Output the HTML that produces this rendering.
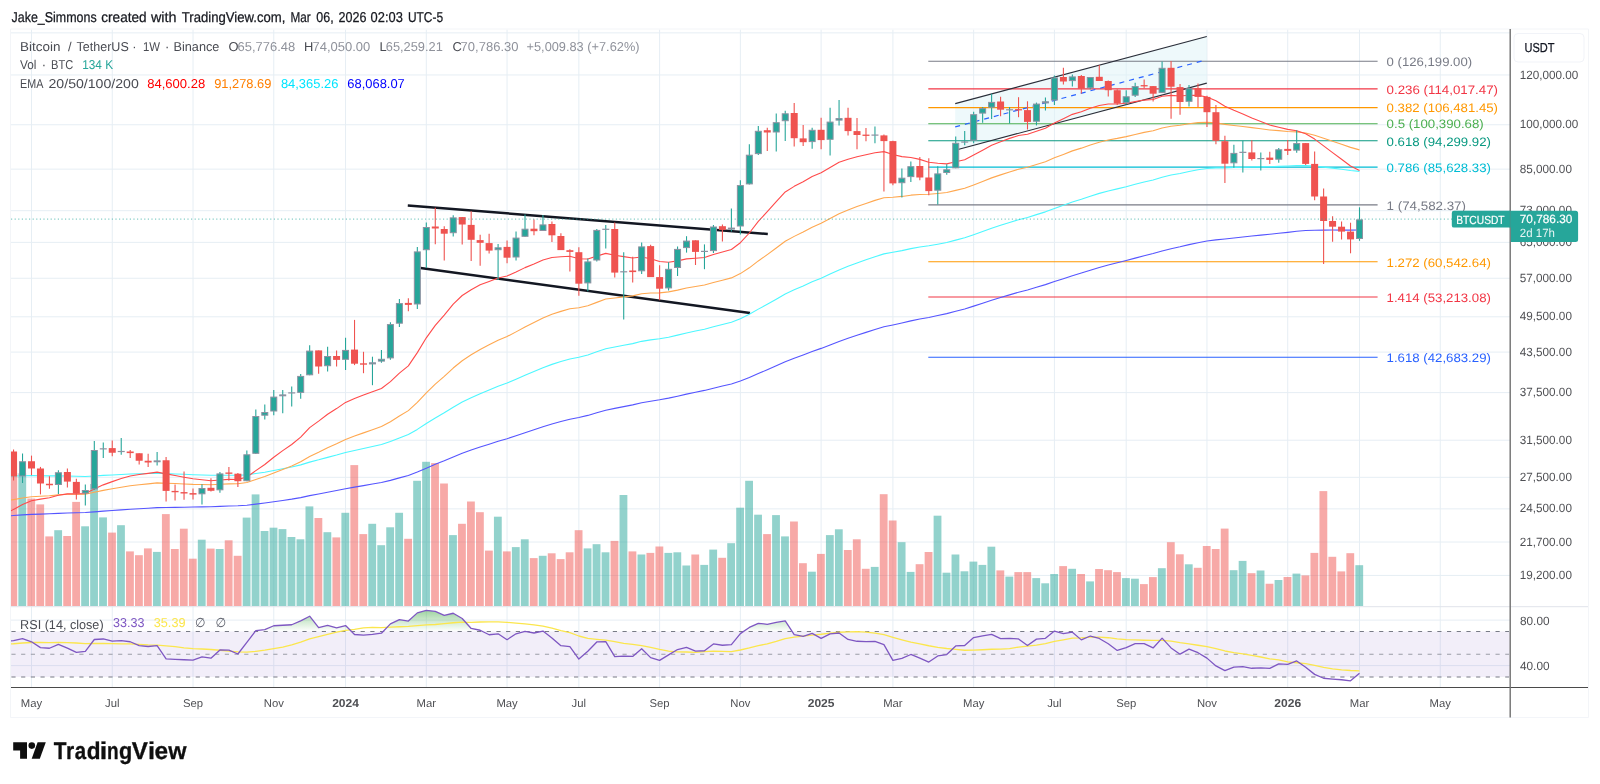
<!DOCTYPE html>
<html><head><meta charset="utf-8"><title>BTCUSDT chart</title>
<style>html,body{margin:0;padding:0;background:#fff;}body{width:1600px;height:784px;overflow:hidden;font-family:"Liberation Sans",sans-serif;}svg{display:block;will-change:transform;text-rendering:geometricPrecision}</style>
</head><body><svg width="1600" height="784" viewBox="0 0 1600 784" font-family="Liberation Sans, sans-serif"><rect x="0" y="0" width="1600" height="784" fill="#fff"/>
<line x1="31.50" y1="29.5" x2="31.50" y2="687.5" stroke="#e6eef4" stroke-width="1"/>
<line x1="112.25" y1="29.5" x2="112.25" y2="687.5" stroke="#e6eef4" stroke-width="1"/>
<line x1="193.01" y1="29.5" x2="193.01" y2="687.5" stroke="#e6eef4" stroke-width="1"/>
<line x1="273.77" y1="29.5" x2="273.77" y2="687.5" stroke="#e6eef4" stroke-width="1"/>
<line x1="345.55" y1="29.5" x2="345.55" y2="687.5" stroke="#e6eef4" stroke-width="1"/>
<line x1="426.31" y1="29.5" x2="426.31" y2="687.5" stroke="#e6eef4" stroke-width="1"/>
<line x1="507.06" y1="29.5" x2="507.06" y2="687.5" stroke="#e6eef4" stroke-width="1"/>
<line x1="578.85" y1="29.5" x2="578.85" y2="687.5" stroke="#e6eef4" stroke-width="1"/>
<line x1="659.61" y1="29.5" x2="659.61" y2="687.5" stroke="#e6eef4" stroke-width="1"/>
<line x1="740.36" y1="29.5" x2="740.36" y2="687.5" stroke="#e6eef4" stroke-width="1"/>
<line x1="821.12" y1="29.5" x2="821.12" y2="687.5" stroke="#e6eef4" stroke-width="1"/>
<line x1="892.90" y1="29.5" x2="892.90" y2="687.5" stroke="#e6eef4" stroke-width="1"/>
<line x1="973.66" y1="29.5" x2="973.66" y2="687.5" stroke="#e6eef4" stroke-width="1"/>
<line x1="1054.42" y1="29.5" x2="1054.42" y2="687.5" stroke="#e6eef4" stroke-width="1"/>
<line x1="1126.20" y1="29.5" x2="1126.20" y2="687.5" stroke="#e6eef4" stroke-width="1"/>
<line x1="1206.96" y1="29.5" x2="1206.96" y2="687.5" stroke="#e6eef4" stroke-width="1"/>
<line x1="1287.72" y1="29.5" x2="1287.72" y2="687.5" stroke="#e6eef4" stroke-width="1"/>
<line x1="1359.50" y1="29.5" x2="1359.50" y2="687.5" stroke="#e6eef4" stroke-width="1"/>
<line x1="1440.26" y1="29.5" x2="1440.26" y2="687.5" stroke="#e6eef4" stroke-width="1"/>
<line x1="11" y1="32.86" x2="1510" y2="32.86" stroke="#e6eef4" stroke-width="1"/>
<line x1="11" y1="74.96" x2="1510" y2="74.96" stroke="#e6eef4" stroke-width="1"/>
<line x1="11" y1="124.75" x2="1510" y2="124.75" stroke="#e6eef4" stroke-width="1"/>
<line x1="11" y1="169.13" x2="1510" y2="169.13" stroke="#e6eef4" stroke-width="1"/>
<line x1="11" y1="210.70" x2="1510" y2="210.70" stroke="#e6eef4" stroke-width="1"/>
<line x1="11" y1="242.39" x2="1510" y2="242.39" stroke="#e6eef4" stroke-width="1"/>
<line x1="11" y1="278.26" x2="1510" y2="278.26" stroke="#e6eef4" stroke-width="1"/>
<line x1="11" y1="316.79" x2="1510" y2="316.79" stroke="#e6eef4" stroke-width="1"/>
<line x1="11" y1="352.08" x2="1510" y2="352.08" stroke="#e6eef4" stroke-width="1"/>
<line x1="11" y1="392.61" x2="1510" y2="392.61" stroke="#e6eef4" stroke-width="1"/>
<line x1="11" y1="440.23" x2="1510" y2="440.23" stroke="#e6eef4" stroke-width="1"/>
<line x1="11" y1="477.32" x2="1510" y2="477.32" stroke="#e6eef4" stroke-width="1"/>
<line x1="11" y1="508.86" x2="1510" y2="508.86" stroke="#e6eef4" stroke-width="1"/>
<line x1="11" y1="542.01" x2="1510" y2="542.01" stroke="#e6eef4" stroke-width="1"/>
<line x1="11" y1="575.43" x2="1510" y2="575.43" stroke="#e6eef4" stroke-width="1"/>
<polygon points="955.2,103.6 1206.8,36.5 1206.8,83.1 955.2,150.2" fill="#def3f8" fill-opacity="0.5"/>
<rect x="11.00" y="473.00" width="6.20" height="133.00" fill="#ef5350" fill-opacity="0.5"/>
<rect x="18.37" y="473.30" width="7.80" height="132.70" fill="#26a69a" fill-opacity="0.5"/>
<rect x="27.35" y="498.60" width="7.80" height="107.40" fill="#ef5350" fill-opacity="0.5"/>
<rect x="36.32" y="504.40" width="7.80" height="101.60" fill="#ef5350" fill-opacity="0.5"/>
<rect x="45.29" y="536.40" width="7.80" height="69.60" fill="#ef5350" fill-opacity="0.5"/>
<rect x="54.26" y="530.20" width="7.80" height="75.80" fill="#26a69a" fill-opacity="0.5"/>
<rect x="63.24" y="536.00" width="7.80" height="70.00" fill="#ef5350" fill-opacity="0.5"/>
<rect x="72.21" y="501.90" width="7.80" height="104.10" fill="#ef5350" fill-opacity="0.5"/>
<rect x="81.18" y="526.30" width="7.80" height="79.70" fill="#26a69a" fill-opacity="0.5"/>
<rect x="90.16" y="484.00" width="7.80" height="122.00" fill="#26a69a" fill-opacity="0.5"/>
<rect x="99.13" y="517.40" width="7.80" height="88.60" fill="#26a69a" fill-opacity="0.5"/>
<rect x="108.10" y="532.60" width="7.80" height="73.40" fill="#ef5350" fill-opacity="0.5"/>
<rect x="117.08" y="525.20" width="7.80" height="80.80" fill="#26a69a" fill-opacity="0.5"/>
<rect x="126.05" y="551.40" width="7.80" height="54.60" fill="#ef5350" fill-opacity="0.5"/>
<rect x="135.02" y="555.20" width="7.80" height="50.80" fill="#ef5350" fill-opacity="0.5"/>
<rect x="143.99" y="548.40" width="7.80" height="57.60" fill="#ef5350" fill-opacity="0.5"/>
<rect x="152.97" y="551.90" width="7.80" height="54.10" fill="#26a69a" fill-opacity="0.5"/>
<rect x="161.94" y="514.10" width="7.80" height="91.90" fill="#ef5350" fill-opacity="0.5"/>
<rect x="170.91" y="549.00" width="7.80" height="57.00" fill="#ef5350" fill-opacity="0.5"/>
<rect x="179.89" y="528.70" width="7.80" height="77.30" fill="#ef5350" fill-opacity="0.5"/>
<rect x="188.86" y="558.70" width="7.80" height="47.30" fill="#ef5350" fill-opacity="0.5"/>
<rect x="197.83" y="539.70" width="7.80" height="66.30" fill="#26a69a" fill-opacity="0.5"/>
<rect x="206.81" y="548.60" width="7.80" height="57.40" fill="#ef5350" fill-opacity="0.5"/>
<rect x="215.78" y="549.00" width="7.80" height="57.00" fill="#26a69a" fill-opacity="0.5"/>
<rect x="224.75" y="540.30" width="7.80" height="65.70" fill="#ef5350" fill-opacity="0.5"/>
<rect x="233.72" y="555.80" width="7.80" height="50.20" fill="#ef5350" fill-opacity="0.5"/>
<rect x="242.70" y="517.60" width="7.80" height="88.40" fill="#26a69a" fill-opacity="0.5"/>
<rect x="251.67" y="494.40" width="7.80" height="111.60" fill="#26a69a" fill-opacity="0.5"/>
<rect x="260.64" y="531.00" width="7.80" height="75.00" fill="#26a69a" fill-opacity="0.5"/>
<rect x="269.62" y="527.70" width="7.80" height="78.30" fill="#26a69a" fill-opacity="0.5"/>
<rect x="278.59" y="529.10" width="7.80" height="76.90" fill="#26a69a" fill-opacity="0.5"/>
<rect x="287.56" y="537.00" width="7.80" height="69.00" fill="#26a69a" fill-opacity="0.5"/>
<rect x="296.54" y="539.30" width="7.80" height="66.70" fill="#26a69a" fill-opacity="0.5"/>
<rect x="305.51" y="506.40" width="7.80" height="99.60" fill="#26a69a" fill-opacity="0.5"/>
<rect x="314.48" y="518.00" width="7.80" height="88.00" fill="#ef5350" fill-opacity="0.5"/>
<rect x="323.46" y="532.20" width="7.80" height="73.80" fill="#26a69a" fill-opacity="0.5"/>
<rect x="332.43" y="537.40" width="7.80" height="68.60" fill="#ef5350" fill-opacity="0.5"/>
<rect x="341.40" y="512.80" width="7.80" height="93.20" fill="#26a69a" fill-opacity="0.5"/>
<rect x="350.37" y="465.10" width="7.80" height="140.90" fill="#ef5350" fill-opacity="0.5"/>
<rect x="359.35" y="534.10" width="7.80" height="71.90" fill="#ef5350" fill-opacity="0.5"/>
<rect x="368.32" y="523.80" width="7.80" height="82.20" fill="#26a69a" fill-opacity="0.5"/>
<rect x="377.29" y="545.20" width="7.80" height="60.80" fill="#26a69a" fill-opacity="0.5"/>
<rect x="386.27" y="527.30" width="7.80" height="78.70" fill="#26a69a" fill-opacity="0.5"/>
<rect x="395.24" y="512.80" width="7.80" height="93.20" fill="#26a69a" fill-opacity="0.5"/>
<rect x="404.21" y="538.80" width="7.80" height="67.20" fill="#ef5350" fill-opacity="0.5"/>
<rect x="413.18" y="480.80" width="7.80" height="125.20" fill="#26a69a" fill-opacity="0.5"/>
<rect x="422.16" y="461.80" width="7.80" height="144.20" fill="#26a69a" fill-opacity="0.5"/>
<rect x="431.13" y="463.10" width="7.80" height="142.90" fill="#ef5350" fill-opacity="0.5"/>
<rect x="440.10" y="483.50" width="7.80" height="122.50" fill="#ef5350" fill-opacity="0.5"/>
<rect x="449.08" y="535.10" width="7.80" height="70.90" fill="#26a69a" fill-opacity="0.5"/>
<rect x="458.05" y="523.80" width="7.80" height="82.20" fill="#ef5350" fill-opacity="0.5"/>
<rect x="467.02" y="501.50" width="7.80" height="104.50" fill="#ef5350" fill-opacity="0.5"/>
<rect x="476.00" y="512.20" width="7.80" height="93.80" fill="#ef5350" fill-opacity="0.5"/>
<rect x="484.97" y="550.60" width="7.80" height="55.40" fill="#ef5350" fill-opacity="0.5"/>
<rect x="493.94" y="516.70" width="7.80" height="89.30" fill="#26a69a" fill-opacity="0.5"/>
<rect x="502.91" y="551.40" width="7.80" height="54.60" fill="#ef5350" fill-opacity="0.5"/>
<rect x="511.89" y="547.10" width="7.80" height="58.90" fill="#26a69a" fill-opacity="0.5"/>
<rect x="520.86" y="539.30" width="7.80" height="66.70" fill="#26a69a" fill-opacity="0.5"/>
<rect x="529.83" y="558.10" width="7.80" height="47.90" fill="#ef5350" fill-opacity="0.5"/>
<rect x="538.81" y="555.80" width="7.80" height="50.20" fill="#26a69a" fill-opacity="0.5"/>
<rect x="547.78" y="553.30" width="7.80" height="52.70" fill="#ef5350" fill-opacity="0.5"/>
<rect x="556.75" y="559.10" width="7.80" height="46.90" fill="#ef5350" fill-opacity="0.5"/>
<rect x="565.73" y="552.30" width="7.80" height="53.70" fill="#ef5350" fill-opacity="0.5"/>
<rect x="574.70" y="530.20" width="7.80" height="75.80" fill="#ef5350" fill-opacity="0.5"/>
<rect x="583.67" y="548.40" width="7.80" height="57.60" fill="#26a69a" fill-opacity="0.5"/>
<rect x="592.64" y="544.20" width="7.80" height="61.80" fill="#26a69a" fill-opacity="0.5"/>
<rect x="601.62" y="552.30" width="7.80" height="53.70" fill="#26a69a" fill-opacity="0.5"/>
<rect x="610.59" y="540.90" width="7.80" height="65.10" fill="#ef5350" fill-opacity="0.5"/>
<rect x="619.56" y="495.00" width="7.80" height="111.00" fill="#26a69a" fill-opacity="0.5"/>
<rect x="628.54" y="551.40" width="7.80" height="54.60" fill="#ef5350" fill-opacity="0.5"/>
<rect x="637.51" y="554.50" width="7.80" height="51.50" fill="#26a69a" fill-opacity="0.5"/>
<rect x="646.48" y="552.90" width="7.80" height="53.10" fill="#ef5350" fill-opacity="0.5"/>
<rect x="655.46" y="546.50" width="7.80" height="59.50" fill="#ef5350" fill-opacity="0.5"/>
<rect x="664.43" y="552.90" width="7.80" height="53.10" fill="#26a69a" fill-opacity="0.5"/>
<rect x="673.40" y="552.30" width="7.80" height="53.70" fill="#26a69a" fill-opacity="0.5"/>
<rect x="682.38" y="565.50" width="7.80" height="40.50" fill="#26a69a" fill-opacity="0.5"/>
<rect x="691.35" y="554.50" width="7.80" height="51.50" fill="#ef5350" fill-opacity="0.5"/>
<rect x="700.32" y="564.90" width="7.80" height="41.10" fill="#26a69a" fill-opacity="0.5"/>
<rect x="709.29" y="549.60" width="7.80" height="56.40" fill="#26a69a" fill-opacity="0.5"/>
<rect x="718.27" y="557.80" width="7.80" height="48.20" fill="#ef5350" fill-opacity="0.5"/>
<rect x="727.24" y="543.20" width="7.80" height="62.80" fill="#26a69a" fill-opacity="0.5"/>
<rect x="736.21" y="507.70" width="7.80" height="98.30" fill="#26a69a" fill-opacity="0.5"/>
<rect x="745.19" y="480.80" width="7.80" height="125.20" fill="#26a69a" fill-opacity="0.5"/>
<rect x="754.16" y="514.70" width="7.80" height="91.30" fill="#26a69a" fill-opacity="0.5"/>
<rect x="763.13" y="534.10" width="7.80" height="71.90" fill="#ef5350" fill-opacity="0.5"/>
<rect x="772.11" y="515.10" width="7.80" height="90.90" fill="#26a69a" fill-opacity="0.5"/>
<rect x="781.08" y="536.40" width="7.80" height="69.60" fill="#26a69a" fill-opacity="0.5"/>
<rect x="790.05" y="521.50" width="7.80" height="84.50" fill="#ef5350" fill-opacity="0.5"/>
<rect x="799.02" y="563.20" width="7.80" height="42.80" fill="#ef5350" fill-opacity="0.5"/>
<rect x="808.00" y="571.70" width="7.80" height="34.30" fill="#26a69a" fill-opacity="0.5"/>
<rect x="816.97" y="553.90" width="7.80" height="52.10" fill="#ef5350" fill-opacity="0.5"/>
<rect x="825.94" y="535.10" width="7.80" height="70.90" fill="#26a69a" fill-opacity="0.5"/>
<rect x="834.92" y="529.30" width="7.80" height="76.70" fill="#26a69a" fill-opacity="0.5"/>
<rect x="843.89" y="550.00" width="7.80" height="56.00" fill="#ef5350" fill-opacity="0.5"/>
<rect x="852.86" y="539.30" width="7.80" height="66.70" fill="#ef5350" fill-opacity="0.5"/>
<rect x="861.83" y="568.80" width="7.80" height="37.20" fill="#ef5350" fill-opacity="0.5"/>
<rect x="870.81" y="566.90" width="7.80" height="39.10" fill="#26a69a" fill-opacity="0.5"/>
<rect x="879.78" y="494.20" width="7.80" height="111.80" fill="#ef5350" fill-opacity="0.5"/>
<rect x="888.75" y="520.50" width="7.80" height="85.50" fill="#ef5350" fill-opacity="0.5"/>
<rect x="897.73" y="542.20" width="7.80" height="63.80" fill="#26a69a" fill-opacity="0.5"/>
<rect x="906.70" y="571.90" width="7.80" height="34.10" fill="#26a69a" fill-opacity="0.5"/>
<rect x="915.67" y="564.20" width="7.80" height="41.80" fill="#ef5350" fill-opacity="0.5"/>
<rect x="924.65" y="552.00" width="7.80" height="54.00" fill="#ef5350" fill-opacity="0.5"/>
<rect x="933.62" y="515.70" width="7.80" height="90.30" fill="#26a69a" fill-opacity="0.5"/>
<rect x="942.59" y="572.70" width="7.80" height="33.30" fill="#26a69a" fill-opacity="0.5"/>
<rect x="951.56" y="554.50" width="7.80" height="51.50" fill="#26a69a" fill-opacity="0.5"/>
<rect x="960.54" y="571.30" width="7.80" height="34.70" fill="#26a69a" fill-opacity="0.5"/>
<rect x="969.51" y="561.60" width="7.80" height="44.40" fill="#26a69a" fill-opacity="0.5"/>
<rect x="978.48" y="564.90" width="7.80" height="41.10" fill="#26a69a" fill-opacity="0.5"/>
<rect x="987.46" y="546.70" width="7.80" height="59.30" fill="#26a69a" fill-opacity="0.5"/>
<rect x="996.43" y="570.40" width="7.80" height="35.60" fill="#ef5350" fill-opacity="0.5"/>
<rect x="1005.40" y="576.60" width="7.80" height="29.40" fill="#26a69a" fill-opacity="0.5"/>
<rect x="1014.38" y="572.10" width="7.80" height="33.90" fill="#ef5350" fill-opacity="0.5"/>
<rect x="1023.35" y="572.10" width="7.80" height="33.90" fill="#ef5350" fill-opacity="0.5"/>
<rect x="1032.32" y="578.10" width="7.80" height="27.90" fill="#26a69a" fill-opacity="0.5"/>
<rect x="1041.29" y="583.30" width="7.80" height="22.70" fill="#26a69a" fill-opacity="0.5"/>
<rect x="1050.27" y="574.00" width="7.80" height="32.00" fill="#26a69a" fill-opacity="0.5"/>
<rect x="1059.24" y="566.10" width="7.80" height="39.90" fill="#ef5350" fill-opacity="0.5"/>
<rect x="1068.21" y="568.80" width="7.80" height="37.20" fill="#26a69a" fill-opacity="0.5"/>
<rect x="1077.19" y="574.00" width="7.80" height="32.00" fill="#ef5350" fill-opacity="0.5"/>
<rect x="1086.16" y="581.40" width="7.80" height="24.60" fill="#26a69a" fill-opacity="0.5"/>
<rect x="1095.13" y="569.00" width="7.80" height="37.00" fill="#ef5350" fill-opacity="0.5"/>
<rect x="1104.11" y="570.20" width="7.80" height="35.80" fill="#ef5350" fill-opacity="0.5"/>
<rect x="1113.08" y="572.10" width="7.80" height="33.90" fill="#ef5350" fill-opacity="0.5"/>
<rect x="1122.05" y="578.10" width="7.80" height="27.90" fill="#26a69a" fill-opacity="0.5"/>
<rect x="1131.02" y="578.70" width="7.80" height="27.30" fill="#26a69a" fill-opacity="0.5"/>
<rect x="1140.00" y="584.10" width="7.80" height="21.90" fill="#ef5350" fill-opacity="0.5"/>
<rect x="1148.97" y="577.10" width="7.80" height="28.90" fill="#ef5350" fill-opacity="0.5"/>
<rect x="1157.94" y="568.20" width="7.80" height="37.80" fill="#26a69a" fill-opacity="0.5"/>
<rect x="1166.92" y="542.20" width="7.80" height="63.80" fill="#ef5350" fill-opacity="0.5"/>
<rect x="1175.89" y="554.30" width="7.80" height="51.70" fill="#ef5350" fill-opacity="0.5"/>
<rect x="1184.86" y="564.30" width="7.80" height="41.70" fill="#26a69a" fill-opacity="0.5"/>
<rect x="1193.84" y="567.80" width="7.80" height="38.20" fill="#ef5350" fill-opacity="0.5"/>
<rect x="1202.81" y="546.00" width="7.80" height="60.00" fill="#ef5350" fill-opacity="0.5"/>
<rect x="1211.78" y="549.00" width="7.80" height="57.00" fill="#ef5350" fill-opacity="0.5"/>
<rect x="1220.75" y="528.60" width="7.80" height="77.40" fill="#ef5350" fill-opacity="0.5"/>
<rect x="1229.73" y="570.20" width="7.80" height="35.80" fill="#26a69a" fill-opacity="0.5"/>
<rect x="1238.70" y="560.90" width="7.80" height="45.10" fill="#26a69a" fill-opacity="0.5"/>
<rect x="1247.67" y="573.20" width="7.80" height="32.80" fill="#ef5350" fill-opacity="0.5"/>
<rect x="1256.65" y="570.50" width="7.80" height="35.50" fill="#26a69a" fill-opacity="0.5"/>
<rect x="1265.62" y="583.75" width="7.80" height="22.25" fill="#ef5350" fill-opacity="0.5"/>
<rect x="1274.59" y="580.00" width="7.80" height="26.00" fill="#26a69a" fill-opacity="0.5"/>
<rect x="1283.57" y="577.00" width="7.80" height="29.00" fill="#ef5350" fill-opacity="0.5"/>
<rect x="1292.54" y="573.60" width="7.80" height="32.40" fill="#26a69a" fill-opacity="0.5"/>
<rect x="1301.51" y="575.40" width="7.80" height="30.60" fill="#ef5350" fill-opacity="0.5"/>
<rect x="1310.48" y="552.90" width="7.80" height="53.10" fill="#ef5350" fill-opacity="0.5"/>
<rect x="1319.46" y="491.10" width="7.80" height="114.90" fill="#ef5350" fill-opacity="0.5"/>
<rect x="1328.43" y="556.80" width="7.80" height="49.20" fill="#ef5350" fill-opacity="0.5"/>
<rect x="1337.40" y="571.40" width="7.80" height="34.60" fill="#ef5350" fill-opacity="0.5"/>
<rect x="1346.38" y="553.20" width="7.80" height="52.80" fill="#ef5350" fill-opacity="0.5"/>
<rect x="1355.35" y="565.20" width="7.80" height="40.80" fill="#26a69a" fill-opacity="0.5"/>
<line x1="928.3" y1="61.20" x2="1377.6" y2="61.20" stroke="#787b86" stroke-width="1.1"/>
<line x1="928.3" y1="88.92" x2="1377.6" y2="88.92" stroke="#f23645" stroke-width="1.1"/>
<line x1="928.3" y1="107.60" x2="1377.6" y2="107.60" stroke="#ff9800" stroke-width="1.1"/>
<line x1="928.3" y1="123.68" x2="1377.6" y2="123.68" stroke="#4caf50" stroke-width="1.1"/>
<line x1="928.3" y1="140.78" x2="1377.6" y2="140.78" stroke="#089981" stroke-width="1.1"/>
<line x1="928.3" y1="167.12" x2="1377.6" y2="167.12" stroke="#00bcd4" stroke-width="1.1"/>
<line x1="928.3" y1="204.84" x2="1377.6" y2="204.84" stroke="#787b86" stroke-width="1.1"/>
<line x1="928.3" y1="261.80" x2="1377.6" y2="261.80" stroke="#ff9800" stroke-width="1.1"/>
<line x1="928.3" y1="297.04" x2="1377.6" y2="297.04" stroke="#f23645" stroke-width="1.1"/>
<line x1="928.3" y1="357.25" x2="1377.6" y2="357.25" stroke="#2962ff" stroke-width="1.1"/>
<line x1="955.2" y1="103.6" x2="1206.8" y2="36.5" stroke="#2a2e39" stroke-width="1.15"/>
<line x1="955.2" y1="150.2" x2="1206.8" y2="83.1" stroke="#2a2e39" stroke-width="1.15"/>
<line x1="955.2" y1="126.9" x2="1202.8" y2="60.8" stroke="#2962ff" stroke-width="1.2" stroke-dasharray="5,5"/>
<line x1="407.8" y1="205.5" x2="767.8" y2="234" stroke="#131722" stroke-width="2.55"/>
<line x1="420.5" y1="268" x2="750" y2="312.9" stroke="#131722" stroke-width="2.55"/>
<polyline points="11,515.68 13.55,515.50 22.52,514.90 31.50,514.40 40.47,514.08 49.44,513.77 58.41,513.33 67.39,512.99 76.36,512.79 85.33,512.56 94.31,511.86 103.28,511.14 112.25,510.50 121.23,509.84 130.20,509.21 139.17,508.68 148.14,508.18 157.12,507.66 166.09,507.49 175.06,507.33 184.04,507.19 193.01,507.06 201.98,506.87 210.96,506.70 219.93,506.35 228.90,506.01 237.88,505.75 246.85,505.19 255.82,504.14 264.79,503.05 273.77,501.76 282.74,500.45 291.71,499.14 300.69,497.59 309.66,495.66 318.63,494.02 327.61,492.24 336.58,490.55 345.55,488.73 354.52,487.15 363.50,485.62 372.47,484.07 381.44,482.50 390.42,480.37 399.39,477.90 408.36,475.51 417.33,472.07 426.31,468.15 435.28,464.36 444.25,460.78 453.23,456.90 462.20,453.27 471.17,450.07 480.15,447.00 489.12,444.16 498.09,441.30 507.06,438.71 516.04,435.77 525.01,432.70 533.98,429.75 542.96,426.72 551.93,423.98 560.90,421.57 569.88,419.24 578.85,417.50 587.82,415.41 596.79,412.78 605.77,410.18 614.74,408.40 623.71,406.63 632.69,404.91 641.66,402.78 650.63,401.20 659.61,399.81 668.58,398.15 677.55,396.18 686.52,394.10 695.50,392.25 704.47,390.41 713.44,388.19 722.42,386.06 731.39,383.93 740.36,381.04 749.34,377.55 758.31,373.59 767.28,369.77 776.25,365.79 785.23,361.68 794.20,358.26 803.17,355.01 812.15,351.55 821.12,348.39 830.09,344.89 839.07,341.40 848.04,338.27 857.01,335.28 865.98,332.37 874.96,329.50 883.93,326.81 892.90,324.94 901.88,323.01 910.85,320.91 919.82,319.04 928.80,317.42 937.77,315.54 946.74,313.62 955.71,311.27 964.69,308.93 973.66,306.12 982.63,303.24 991.61,300.30 1000.58,297.57 1009.55,294.88 1018.53,292.26 1027.50,289.92 1036.47,287.27 1045.44,284.63 1054.42,281.57 1063.39,278.65 1072.36,275.68 1081.34,273.02 1090.31,270.18 1099.28,267.48 1108.26,265.01 1117.23,262.83 1126.20,260.55 1135.17,258.13 1144.15,255.76 1153.12,253.57 1162.09,250.93 1171.07,248.70 1180.04,246.78 1189.01,244.64 1197.99,242.70 1206.96,241.04 1215.93,239.84 1224.90,238.97 1233.88,237.96 1242.85,236.96 1251.82,236.06 1260.80,235.16 1269.77,234.30 1278.74,233.31 1287.72,232.36 1296.69,231.31 1305.66,230.55 1314.63,230.19 1323.61,230.09 1332.58,230.06 1341.55,230.08 1350.53,230.17 1359.50,230.05" fill="none" stroke="#5555ff" stroke-width="1.1" stroke-linejoin="round" clip-path="url(#cpm)"/>
<polyline points="11,476.09 13.55,476.00 22.52,475.70 31.50,475.56 40.47,475.71 49.44,475.90 58.41,475.82 67.39,475.94 76.36,476.27 85.33,476.54 94.31,475.99 103.28,475.41 112.25,474.94 121.23,474.44 130.20,474.01 139.17,473.74 148.14,473.51 157.12,473.24 166.09,473.58 175.06,473.94 184.04,474.31 193.01,474.70 201.98,474.96 210.96,475.26 219.93,475.23 228.90,475.20 237.88,475.31 246.85,474.88 255.82,473.58 264.79,472.22 273.77,470.50 282.74,468.77 291.71,467.03 300.69,464.89 309.66,462.10 318.63,459.84 327.61,457.35 336.58,455.04 345.55,452.51 354.52,450.44 363.50,448.46 372.47,446.46 381.44,444.42 390.42,441.44 399.39,437.90 408.36,434.52 417.33,429.41 426.31,423.53 435.28,417.95 444.25,412.79 453.23,407.20 462.20,402.09 471.17,397.74 480.15,393.64 489.12,389.94 498.09,386.26 507.06,383.03 516.04,379.25 525.01,375.30 533.98,371.57 542.96,367.73 551.93,364.38 560.90,361.58 569.88,358.92 578.85,357.22 587.82,354.95 596.79,351.83 605.77,348.77 614.74,347.03 623.71,345.30 632.69,343.64 641.66,341.34 650.63,339.91 659.61,338.80 668.58,337.22 677.55,335.16 686.52,332.94 695.50,331.07 704.47,329.24 713.44,326.78 722.42,324.48 731.39,322.19 740.36,318.69 749.34,314.27 758.31,309.14 767.28,304.27 776.25,299.19 785.23,293.97 794.20,289.84 803.17,285.99 812.15,281.85 821.12,278.19 830.09,274.04 839.07,269.90 848.04,266.34 857.01,263.03 865.98,259.84 874.96,256.71 883.93,253.87 892.90,252.29 901.88,250.59 910.85,248.64 919.82,247.04 928.80,245.81 937.77,244.17 946.74,242.47 955.71,240.10 964.69,237.76 973.66,234.68 982.63,231.51 991.61,228.24 1000.58,225.32 1009.55,222.47 1018.53,219.73 1027.50,217.41 1036.47,214.63 1045.44,211.86 1054.42,208.44 1063.39,205.26 1072.36,202.02 1081.34,199.25 1090.31,196.21 1099.28,193.39 1108.26,190.92 1117.23,188.89 1126.20,186.71 1135.17,184.31 1144.15,181.98 1153.12,179.93 1162.09,177.20 1171.07,175.08 1180.04,173.43 1189.01,171.45 1197.99,169.76 1206.96,168.49 1215.93,167.92 1224.90,167.83 1233.88,167.53 1242.85,167.21 1251.82,167.04 1260.80,166.86 1269.77,166.72 1278.74,166.37 1287.72,166.05 1296.69,165.58 1305.66,165.54 1314.63,166.12 1323.61,167.11 1332.58,168.17 1341.55,169.30 1350.53,170.52 1359.50,171.41" fill="none" stroke="#4df7ff" stroke-width="1.1" stroke-linejoin="round" clip-path="url(#cpm)"/>
<polyline points="11,500.08 13.55,499.60 22.52,497.99 31.50,496.77 40.47,496.24 49.44,495.80 58.41,494.84 67.39,494.31 76.36,494.27 85.33,494.10 94.31,492.23 103.28,490.36 112.25,488.79 121.23,487.20 130.20,485.78 139.17,484.75 148.14,483.85 157.12,482.89 166.09,483.20 175.06,483.55 184.04,483.93 193.01,484.34 201.98,484.48 210.96,484.73 219.93,484.28 228.90,483.85 237.88,483.75 246.85,482.53 255.82,479.59 264.79,476.60 273.77,472.98 282.74,469.43 291.71,465.97 300.69,461.81 309.66,456.48 318.63,452.33 327.61,447.84 336.58,443.80 345.55,439.44 354.52,436.04 363.50,432.86 372.47,429.72 381.44,426.57 390.42,421.73 399.39,415.97 408.36,410.65 417.33,402.30 426.31,392.82 435.28,384.13 444.25,376.37 453.23,368.04 462.20,360.73 471.17,354.83 480.15,349.45 489.12,344.82 498.09,340.26 507.06,336.51 516.04,331.87 525.01,327.00 533.98,322.54 542.96,317.95 551.93,314.19 560.90,311.37 569.88,308.78 578.85,307.75 587.82,305.77 596.79,302.37 605.77,299.07 614.74,297.98 623.71,296.87 632.69,295.86 641.66,293.74 650.63,293.07 659.61,292.89 668.58,291.91 677.55,290.09 686.52,287.97 695.50,286.46 704.47,284.97 713.44,282.43 722.42,280.17 731.39,277.90 740.36,273.60 749.34,267.82 758.31,260.93 767.28,254.58 776.25,247.98 785.23,241.23 794.20,236.37 803.17,231.99 812.15,227.18 821.12,223.18 830.09,218.40 839.07,213.69 848.04,209.93 857.01,206.57 865.98,203.43 874.96,200.37 883.93,197.79 892.90,197.21 901.88,196.42 910.85,195.17 919.82,194.45 928.80,194.32 937.77,193.47 946.74,192.48 955.71,190.35 964.69,188.25 973.66,184.94 982.63,181.48 991.61,177.88 1000.58,174.86 1009.55,171.96 1018.53,169.25 1027.50,167.23 1036.47,164.44 1045.44,161.66 1054.42,157.82 1063.39,154.39 1072.36,150.87 1081.34,148.15 1090.31,144.98 1099.28,142.17 1108.26,139.93 1117.23,138.41 1126.20,136.63 1135.17,134.46 1144.15,132.39 1153.12,130.77 1162.09,128.00 1171.07,126.26 1180.04,125.27 1189.01,123.72 1197.99,122.61 1206.96,122.20 1215.93,122.90 1224.90,124.39 1233.88,125.46 1242.85,126.44 1251.82,127.65 1260.80,128.78 1269.77,129.93 1278.74,130.67 1287.72,131.43 1296.69,131.88 1305.66,133.07 1314.63,135.30 1323.61,138.20 1332.58,141.18 1341.55,144.21 1350.53,147.38 1359.50,149.87" fill="none" stroke="#ffa850" stroke-width="1.1" stroke-linejoin="round" clip-path="url(#cpm)"/>
<polyline points="11,510.89 13.55,509.40 22.52,504.43 31.50,500.80 40.47,499.10 49.44,497.75 58.41,495.22 67.39,493.89 76.36,493.85 85.33,493.48 94.31,489.03 103.28,484.86 112.25,481.63 121.23,478.56 130.20,476.03 139.17,474.54 148.14,473.37 157.12,472.11 166.09,473.84 175.06,475.54 184.04,477.20 193.01,478.81 201.98,479.68 210.96,480.72 219.93,480.01 228.90,479.40 237.88,479.57 246.85,477.06 255.82,470.62 264.79,464.47 273.77,457.22 282.74,450.58 291.71,444.47 300.69,437.15 309.66,427.62 318.63,421.17 327.61,414.25 336.58,408.58 345.55,402.42 354.52,398.48 363.50,395.08 372.47,391.78 381.44,388.46 390.42,381.64 399.39,373.11 408.36,365.83 417.33,352.61 426.31,337.83 435.28,325.32 444.25,315.14 453.23,304.17 462.20,295.50 471.17,289.68 480.15,284.85 489.12,281.40 498.09,277.96 507.06,275.97 516.04,272.07 525.01,267.63 533.98,263.94 542.96,259.92 551.93,257.48 560.90,256.77 569.88,256.30 578.85,258.79 587.82,259.04 596.79,256.13 605.77,253.39 614.74,255.17 623.71,256.63 632.69,258.07 641.66,256.94 650.63,258.79 659.61,261.51 668.58,262.19 677.55,260.90 686.52,258.90 695.50,258.22 704.47,257.52 713.44,254.41 722.42,251.98 731.39,249.56 740.36,242.72 749.34,233.00 758.31,221.45 767.28,211.61 776.25,201.72 785.23,191.95 794.20,186.35 803.17,181.83 812.15,176.42 821.12,172.75 830.09,167.44 839.07,162.34 848.04,159.21 857.01,156.81 865.98,154.74 874.96,152.76 883.93,151.63 892.90,154.50 901.88,156.63 910.85,157.52 919.82,159.36 928.80,162.23 937.77,163.28 946.74,163.84 955.71,161.77 964.69,159.75 973.66,155.07 982.63,150.23 991.61,145.24 1000.58,141.65 1009.55,138.38 1018.53,135.56 1027.50,134.23 1036.47,131.16 1045.44,128.17 1054.42,122.91 1063.39,118.68 1072.36,114.36 1081.34,111.81 1090.31,108.30 1099.28,105.58 1108.26,104.07 1117.23,104.02 1126.20,103.27 1135.17,101.59 1144.15,100.08 1153.12,99.46 1162.09,96.28 1171.07,95.36 1180.04,95.98 1189.01,95.23 1197.99,95.39 1206.96,96.95 1215.93,100.83 1224.90,106.23 1233.88,110.35 1242.85,114.04 1251.82,118.02 1260.80,121.58 1269.77,125.01 1278.74,127.23 1287.72,129.40 1296.69,130.67 1305.66,133.67 1314.63,139.07 1323.61,145.89 1332.58,152.64 1341.55,159.25 1350.53,165.94 1359.50,170.58" fill="none" stroke="#ff4a4a" stroke-width="1.1" stroke-linejoin="round" clip-path="url(#cpm)"/>
<line x1="13.55" y1="449.40" x2="13.55" y2="480.60" stroke="#ef5350" stroke-width="1.1"/>
<rect x="11.00" y="451.50" width="6.05" height="25.00" fill="#ef5350"/>
<line x1="22.52" y1="453.50" x2="22.52" y2="483.00" stroke="#26a69a" stroke-width="1.1"/>
<rect x="19.52" y="461.75" width="6.00" height="14.25" fill="#26a69a" stroke="#8d91a1" stroke-width="1"/>
<line x1="31.50" y1="455.60" x2="31.50" y2="475.25" stroke="#ef5350" stroke-width="1.1"/>
<rect x="28.00" y="461.25" width="7.00" height="7.25" fill="#ef5350"/>
<line x1="40.47" y1="466.90" x2="40.47" y2="494.40" stroke="#ef5350" stroke-width="1.1"/>
<rect x="36.97" y="468.50" width="7.00" height="15.00" fill="#ef5350"/>
<line x1="49.44" y1="476.25" x2="49.44" y2="488.75" stroke="#ef5350" stroke-width="1.1"/>
<rect x="45.94" y="483.75" width="7.00" height="1.50" fill="#ef5350"/>
<line x1="58.41" y1="470.25" x2="58.41" y2="494.00" stroke="#26a69a" stroke-width="1.1"/>
<rect x="55.41" y="472.75" width="6.00" height="11.75" fill="#26a69a" stroke="#8d91a1" stroke-width="1"/>
<line x1="67.39" y1="468.50" x2="67.39" y2="487.50" stroke="#ef5350" stroke-width="1.1"/>
<rect x="63.89" y="472.00" width="7.00" height="9.60" fill="#ef5350"/>
<line x1="76.36" y1="478.75" x2="76.36" y2="499.40" stroke="#ef5350" stroke-width="1.1"/>
<rect x="72.86" y="481.90" width="7.00" height="11.60" fill="#ef5350"/>
<line x1="85.33" y1="484.40" x2="85.33" y2="505.60" stroke="#26a69a" stroke-width="1.1"/>
<rect x="82.33" y="490.50" width="6.00" height="2.50" fill="#26a69a" stroke="#8d91a1" stroke-width="1"/>
<line x1="94.31" y1="441.00" x2="94.31" y2="490.00" stroke="#26a69a" stroke-width="1.1"/>
<rect x="91.31" y="450.50" width="6.00" height="38.40" fill="#26a69a" stroke="#8d91a1" stroke-width="1"/>
<line x1="103.28" y1="442.50" x2="103.28" y2="458.10" stroke="#26a69a" stroke-width="1.1"/>
<rect x="99.78" y="448.25" width="7.00" height="1.2" fill="#8d91a1"/>
<line x1="112.25" y1="440.60" x2="112.25" y2="456.25" stroke="#ef5350" stroke-width="1.1"/>
<rect x="108.75" y="448.10" width="7.00" height="4.65" fill="#ef5350"/>
<line x1="121.23" y1="437.90" x2="121.23" y2="454.75" stroke="#26a69a" stroke-width="1.1"/>
<rect x="117.73" y="450.90" width="7.00" height="1.2" fill="#8d91a1"/>
<line x1="130.20" y1="450.00" x2="130.20" y2="458.10" stroke="#ef5350" stroke-width="1.1"/>
<rect x="126.70" y="451.50" width="7.00" height="1.60" fill="#ef5350"/>
<line x1="139.17" y1="453.25" x2="139.17" y2="464.40" stroke="#ef5350" stroke-width="1.1"/>
<rect x="135.67" y="453.25" width="7.00" height="7.50" fill="#ef5350"/>
<line x1="148.14" y1="453.75" x2="148.14" y2="466.90" stroke="#ef5350" stroke-width="1.1"/>
<rect x="144.64" y="460.75" width="7.00" height="1.75" fill="#ef5350"/>
<line x1="157.12" y1="451.90" x2="157.12" y2="465.60" stroke="#26a69a" stroke-width="1.1"/>
<rect x="154.12" y="460.90" width="6.00" height="0.85" fill="#26a69a" stroke="#8d91a1" stroke-width="1"/>
<line x1="166.09" y1="456.90" x2="166.09" y2="501.50" stroke="#ef5350" stroke-width="1.1"/>
<rect x="162.59" y="460.25" width="7.00" height="30.65" fill="#ef5350"/>
<line x1="175.06" y1="484.40" x2="175.06" y2="500.40" stroke="#ef5350" stroke-width="1.1"/>
<rect x="171.56" y="490.90" width="7.00" height="1.35" fill="#ef5350"/>
<line x1="184.04" y1="471.60" x2="184.04" y2="499.75" stroke="#ef5350" stroke-width="1.1"/>
<rect x="180.54" y="492.10" width="7.00" height="1.40" fill="#ef5350"/>
<line x1="193.01" y1="488.50" x2="193.01" y2="499.60" stroke="#ef5350" stroke-width="1.1"/>
<rect x="189.51" y="493.10" width="7.00" height="1.50" fill="#ef5350"/>
<line x1="201.98" y1="484.30" x2="201.98" y2="504.40" stroke="#26a69a" stroke-width="1.1"/>
<rect x="198.98" y="488.50" width="6.00" height="5.30" fill="#26a69a" stroke="#8d91a1" stroke-width="1"/>
<line x1="210.96" y1="478.20" x2="210.96" y2="491.40" stroke="#ef5350" stroke-width="1.1"/>
<rect x="207.46" y="487.80" width="7.00" height="3.00" fill="#ef5350"/>
<line x1="219.93" y1="472.00" x2="219.93" y2="492.80" stroke="#26a69a" stroke-width="1.1"/>
<rect x="216.93" y="473.90" width="6.00" height="15.90" fill="#26a69a" stroke="#8d91a1" stroke-width="1"/>
<line x1="228.90" y1="467.00" x2="228.90" y2="480.70" stroke="#ef5350" stroke-width="1.1"/>
<rect x="225.40" y="472.50" width="7.00" height="1.30" fill="#ef5350"/>
<line x1="237.88" y1="472.90" x2="237.88" y2="487.00" stroke="#ef5350" stroke-width="1.1"/>
<rect x="234.38" y="473.70" width="7.00" height="7.50" fill="#ef5350"/>
<line x1="246.85" y1="450.50" x2="246.85" y2="481.20" stroke="#26a69a" stroke-width="1.1"/>
<rect x="243.85" y="454.80" width="6.00" height="25.90" fill="#26a69a" stroke="#8d91a1" stroke-width="1"/>
<line x1="255.82" y1="409.50" x2="255.82" y2="454.10" stroke="#26a69a" stroke-width="1.1"/>
<rect x="252.82" y="416.50" width="6.00" height="36.80" fill="#26a69a" stroke="#8d91a1" stroke-width="1"/>
<line x1="264.79" y1="404.40" x2="264.79" y2="419.50" stroke="#26a69a" stroke-width="1.1"/>
<rect x="261.79" y="412.50" width="6.00" height="2.70" fill="#26a69a" stroke="#8d91a1" stroke-width="1"/>
<line x1="273.77" y1="390.00" x2="273.77" y2="415.30" stroke="#26a69a" stroke-width="1.1"/>
<rect x="270.77" y="397.10" width="6.00" height="13.90" fill="#26a69a" stroke="#8d91a1" stroke-width="1"/>
<line x1="282.74" y1="390.00" x2="282.74" y2="413.20" stroke="#26a69a" stroke-width="1.1"/>
<rect x="279.74" y="394.90" width="6.00" height="0.90" fill="#26a69a" stroke="#8d91a1" stroke-width="1"/>
<line x1="291.71" y1="386.60" x2="291.71" y2="406.50" stroke="#26a69a" stroke-width="1.1"/>
<rect x="288.21" y="392.30" width="7.00" height="1.2" fill="#8d91a1"/>
<line x1="300.69" y1="373.90" x2="300.69" y2="398.80" stroke="#26a69a" stroke-width="1.1"/>
<rect x="297.69" y="376.40" width="6.00" height="16.00" fill="#26a69a" stroke="#8d91a1" stroke-width="1"/>
<line x1="309.66" y1="345.20" x2="309.66" y2="375.30" stroke="#26a69a" stroke-width="1.1"/>
<rect x="306.66" y="351.10" width="6.00" height="23.70" fill="#26a69a" stroke="#8d91a1" stroke-width="1"/>
<line x1="318.63" y1="350.40" x2="318.63" y2="373.80" stroke="#ef5350" stroke-width="1.1"/>
<rect x="315.13" y="350.40" width="7.00" height="16.10" fill="#ef5350"/>
<line x1="327.61" y1="346.80" x2="327.61" y2="371.40" stroke="#26a69a" stroke-width="1.1"/>
<rect x="324.61" y="356.50" width="6.00" height="9.20" fill="#26a69a" stroke="#8d91a1" stroke-width="1"/>
<line x1="336.58" y1="350.40" x2="336.58" y2="366.50" stroke="#ef5350" stroke-width="1.1"/>
<rect x="333.08" y="356.00" width="7.00" height="3.90" fill="#ef5350"/>
<line x1="345.55" y1="337.70" x2="345.55" y2="370.00" stroke="#26a69a" stroke-width="1.1"/>
<rect x="342.55" y="350.40" width="6.00" height="8.90" fill="#26a69a" stroke="#8d91a1" stroke-width="1"/>
<line x1="354.52" y1="319.90" x2="354.52" y2="365.10" stroke="#ef5350" stroke-width="1.1"/>
<rect x="351.02" y="349.60" width="7.00" height="14.10" fill="#ef5350"/>
<line x1="363.50" y1="351.80" x2="363.50" y2="373.20" stroke="#ef5350" stroke-width="1.1"/>
<rect x="360.00" y="363.30" width="7.00" height="1.40" fill="#ef5350"/>
<line x1="372.47" y1="356.70" x2="372.47" y2="385.20" stroke="#26a69a" stroke-width="1.1"/>
<rect x="369.47" y="362.80" width="6.00" height="1.10" fill="#26a69a" stroke="#8d91a1" stroke-width="1"/>
<line x1="381.44" y1="350.10" x2="381.44" y2="362.70" stroke="#26a69a" stroke-width="1.1"/>
<rect x="378.44" y="359.30" width="6.00" height="1.80" fill="#26a69a" stroke="#8d91a1" stroke-width="1"/>
<line x1="390.42" y1="322.30" x2="390.42" y2="359.80" stroke="#26a69a" stroke-width="1.1"/>
<rect x="387.42" y="324.60" width="6.00" height="33.30" fill="#26a69a" stroke="#8d91a1" stroke-width="1"/>
<line x1="399.39" y1="299.10" x2="399.39" y2="326.90" stroke="#26a69a" stroke-width="1.1"/>
<rect x="396.39" y="303.60" width="6.00" height="19.60" fill="#26a69a" stroke="#8d91a1" stroke-width="1"/>
<line x1="408.36" y1="298.20" x2="408.36" y2="311.20" stroke="#ef5350" stroke-width="1.1"/>
<rect x="404.86" y="302.90" width="7.00" height="2.00" fill="#ef5350"/>
<line x1="417.33" y1="246.90" x2="417.33" y2="309.00" stroke="#26a69a" stroke-width="1.1"/>
<rect x="414.33" y="251.90" width="6.00" height="52.10" fill="#26a69a" stroke="#8d91a1" stroke-width="1"/>
<line x1="426.31" y1="222.40" x2="426.31" y2="268.00" stroke="#26a69a" stroke-width="1.1"/>
<rect x="423.31" y="227.50" width="6.00" height="22.20" fill="#26a69a" stroke="#8d91a1" stroke-width="1"/>
<line x1="435.28" y1="207.80" x2="435.28" y2="244.30" stroke="#ef5350" stroke-width="1.1"/>
<rect x="431.78" y="226.50" width="7.00" height="2.00" fill="#ef5350"/>
<line x1="444.25" y1="226.20" x2="444.25" y2="260.50" stroke="#ef5350" stroke-width="1.1"/>
<rect x="440.75" y="229.00" width="7.00" height="4.70" fill="#ef5350"/>
<line x1="453.23" y1="215.30" x2="453.23" y2="236.50" stroke="#26a69a" stroke-width="1.1"/>
<rect x="450.23" y="217.90" width="6.00" height="14.80" fill="#26a69a" stroke="#8d91a1" stroke-width="1"/>
<line x1="462.20" y1="217.10" x2="462.20" y2="244.40" stroke="#ef5350" stroke-width="1.1"/>
<rect x="458.70" y="217.10" width="7.00" height="7.40" fill="#ef5350"/>
<line x1="471.17" y1="211.30" x2="471.17" y2="261.00" stroke="#ef5350" stroke-width="1.1"/>
<rect x="467.67" y="224.90" width="7.00" height="14.90" fill="#ef5350"/>
<line x1="480.15" y1="234.80" x2="480.15" y2="265.80" stroke="#ef5350" stroke-width="1.1"/>
<rect x="476.65" y="240.10" width="7.00" height="2.70" fill="#ef5350"/>
<line x1="489.12" y1="233.70" x2="489.12" y2="253.40" stroke="#ef5350" stroke-width="1.1"/>
<rect x="485.62" y="243.10" width="7.00" height="7.50" fill="#ef5350"/>
<line x1="498.09" y1="243.90" x2="498.09" y2="280.10" stroke="#26a69a" stroke-width="1.1"/>
<rect x="495.09" y="247.80" width="6.00" height="1.90" fill="#26a69a" stroke="#8d91a1" stroke-width="1"/>
<line x1="507.06" y1="240.60" x2="507.06" y2="263.30" stroke="#ef5350" stroke-width="1.1"/>
<rect x="503.56" y="246.90" width="7.00" height="10.80" fill="#ef5350"/>
<line x1="516.04" y1="231.50" x2="516.04" y2="260.50" stroke="#26a69a" stroke-width="1.1"/>
<rect x="513.04" y="238.10" width="6.00" height="18.90" fill="#26a69a" stroke="#8d91a1" stroke-width="1"/>
<line x1="525.01" y1="214.60" x2="525.01" y2="236.80" stroke="#26a69a" stroke-width="1.1"/>
<rect x="522.01" y="229.20" width="6.00" height="7.10" fill="#26a69a" stroke="#8d91a1" stroke-width="1"/>
<line x1="533.98" y1="219.60" x2="533.98" y2="235.30" stroke="#ef5350" stroke-width="1.1"/>
<rect x="530.48" y="228.70" width="7.00" height="2.50" fill="#ef5350"/>
<line x1="542.96" y1="214.90" x2="542.96" y2="231.00" stroke="#26a69a" stroke-width="1.1"/>
<rect x="539.96" y="224.90" width="6.00" height="5.60" fill="#26a69a" stroke="#8d91a1" stroke-width="1"/>
<line x1="551.93" y1="221.60" x2="551.93" y2="242.00" stroke="#ef5350" stroke-width="1.1"/>
<rect x="548.43" y="224.00" width="7.00" height="11.30" fill="#ef5350"/>
<line x1="560.90" y1="233.20" x2="560.90" y2="250.10" stroke="#ef5350" stroke-width="1.1"/>
<rect x="557.40" y="236.00" width="7.00" height="14.10" fill="#ef5350"/>
<line x1="569.88" y1="249.30" x2="569.88" y2="271.60" stroke="#ef5350" stroke-width="1.1"/>
<rect x="566.38" y="250.20" width="7.00" height="1.70" fill="#ef5350"/>
<line x1="578.85" y1="247.30" x2="578.85" y2="295.70" stroke="#ef5350" stroke-width="1.1"/>
<rect x="575.35" y="252.20" width="7.00" height="31.50" fill="#ef5350"/>
<line x1="587.82" y1="258.40" x2="587.82" y2="291.20" stroke="#26a69a" stroke-width="1.1"/>
<rect x="584.82" y="261.90" width="6.00" height="21.00" fill="#26a69a" stroke="#8d91a1" stroke-width="1"/>
<line x1="596.79" y1="229.00" x2="596.79" y2="261.40" stroke="#26a69a" stroke-width="1.1"/>
<rect x="593.79" y="230.40" width="6.00" height="29.60" fill="#26a69a" stroke="#8d91a1" stroke-width="1"/>
<line x1="605.77" y1="224.90" x2="605.77" y2="248.60" stroke="#26a69a" stroke-width="1.1"/>
<rect x="602.27" y="228.70" width="7.00" height="1.2" fill="#8d91a1"/>
<line x1="614.74" y1="222.40" x2="614.74" y2="277.60" stroke="#ef5350" stroke-width="1.1"/>
<rect x="611.24" y="229.00" width="7.00" height="43.60" fill="#ef5350"/>
<line x1="623.71" y1="252.20" x2="623.71" y2="319.40" stroke="#26a69a" stroke-width="1.1"/>
<rect x="620.21" y="271.20" width="7.00" height="1.2" fill="#8d91a1"/>
<line x1="632.69" y1="256.70" x2="632.69" y2="282.40" stroke="#ef5350" stroke-width="1.1"/>
<rect x="629.19" y="270.50" width="7.00" height="1.60" fill="#ef5350"/>
<line x1="641.66" y1="242.60" x2="641.66" y2="274.10" stroke="#26a69a" stroke-width="1.1"/>
<rect x="638.66" y="246.90" width="6.00" height="23.90" fill="#26a69a" stroke="#8d91a1" stroke-width="1"/>
<line x1="650.63" y1="244.80" x2="650.63" y2="277.10" stroke="#ef5350" stroke-width="1.1"/>
<rect x="647.13" y="246.10" width="7.00" height="31.00" fill="#ef5350"/>
<line x1="659.61" y1="265.20" x2="659.61" y2="300.30" stroke="#ef5350" stroke-width="1.1"/>
<rect x="656.11" y="277.10" width="7.00" height="11.60" fill="#ef5350"/>
<line x1="668.58" y1="262.20" x2="668.58" y2="290.40" stroke="#26a69a" stroke-width="1.1"/>
<rect x="665.58" y="269.30" width="6.00" height="18.60" fill="#26a69a" stroke="#8d91a1" stroke-width="1"/>
<line x1="677.55" y1="246.40" x2="677.55" y2="276.00" stroke="#26a69a" stroke-width="1.1"/>
<rect x="674.55" y="249.40" width="6.00" height="18.10" fill="#26a69a" stroke="#8d91a1" stroke-width="1"/>
<line x1="686.52" y1="236.20" x2="686.52" y2="252.60" stroke="#26a69a" stroke-width="1.1"/>
<rect x="683.52" y="241.10" width="6.00" height="6.50" fill="#26a69a" stroke="#8d91a1" stroke-width="1"/>
<line x1="695.50" y1="240.30" x2="695.50" y2="265.00" stroke="#ef5350" stroke-width="1.1"/>
<rect x="692.00" y="240.30" width="7.00" height="11.60" fill="#ef5350"/>
<line x1="704.47" y1="244.40" x2="704.47" y2="269.20" stroke="#26a69a" stroke-width="1.1"/>
<rect x="700.97" y="250.80" width="7.00" height="1.2" fill="#8d91a1"/>
<line x1="713.44" y1="224.90" x2="713.44" y2="253.10" stroke="#26a69a" stroke-width="1.1"/>
<rect x="710.44" y="227.00" width="6.00" height="23.60" fill="#26a69a" stroke="#8d91a1" stroke-width="1"/>
<line x1="722.42" y1="224.40" x2="722.42" y2="241.50" stroke="#ef5350" stroke-width="1.1"/>
<rect x="718.92" y="226.20" width="7.00" height="3.70" fill="#ef5350"/>
<line x1="731.39" y1="208.50" x2="731.39" y2="231.50" stroke="#26a69a" stroke-width="1.1"/>
<rect x="728.39" y="228.10" width="6.00" height="1.00" fill="#26a69a" stroke="#8d91a1" stroke-width="1"/>
<line x1="740.36" y1="180.30" x2="740.36" y2="234.50" stroke="#26a69a" stroke-width="1.1"/>
<rect x="737.36" y="185.60" width="6.00" height="40.40" fill="#26a69a" stroke="#8d91a1" stroke-width="1"/>
<line x1="749.34" y1="144.20" x2="749.34" y2="184.40" stroke="#26a69a" stroke-width="1.1"/>
<rect x="746.34" y="155.20" width="6.00" height="28.70" fill="#26a69a" stroke="#8d91a1" stroke-width="1"/>
<line x1="758.31" y1="126.00" x2="758.31" y2="155.10" stroke="#26a69a" stroke-width="1.1"/>
<rect x="755.31" y="131.30" width="6.00" height="22.30" fill="#26a69a" stroke="#8d91a1" stroke-width="1"/>
<line x1="767.28" y1="127.70" x2="767.28" y2="150.90" stroke="#ef5350" stroke-width="1.1"/>
<rect x="763.78" y="130.20" width="7.00" height="2.30" fill="#ef5350"/>
<line x1="776.25" y1="113.50" x2="776.25" y2="151.60" stroke="#26a69a" stroke-width="1.1"/>
<rect x="773.25" y="122.70" width="6.00" height="9.30" fill="#26a69a" stroke="#8d91a1" stroke-width="1"/>
<line x1="785.23" y1="110.70" x2="785.23" y2="141.10" stroke="#26a69a" stroke-width="1.1"/>
<rect x="782.23" y="113.80" width="6.00" height="6.90" fill="#26a69a" stroke="#8d91a1" stroke-width="1"/>
<line x1="794.20" y1="103.00" x2="794.20" y2="146.50" stroke="#ef5350" stroke-width="1.1"/>
<rect x="790.70" y="113.00" width="7.00" height="25.20" fill="#ef5350"/>
<line x1="803.17" y1="125.00" x2="803.17" y2="146.10" stroke="#ef5350" stroke-width="1.1"/>
<rect x="799.67" y="138.40" width="7.00" height="3.80" fill="#ef5350"/>
<line x1="812.15" y1="127.70" x2="812.15" y2="148.80" stroke="#26a69a" stroke-width="1.1"/>
<rect x="809.15" y="130.30" width="6.00" height="11.30" fill="#26a69a" stroke="#8d91a1" stroke-width="1"/>
<line x1="821.12" y1="117.80" x2="821.12" y2="149.30" stroke="#ef5350" stroke-width="1.1"/>
<rect x="817.62" y="129.80" width="7.00" height="10.30" fill="#ef5350"/>
<line x1="830.09" y1="107.80" x2="830.09" y2="155.60" stroke="#26a69a" stroke-width="1.1"/>
<rect x="827.09" y="122.10" width="6.00" height="17.20" fill="#26a69a" stroke="#8d91a1" stroke-width="1"/>
<line x1="839.07" y1="100.00" x2="839.07" y2="125.40" stroke="#26a69a" stroke-width="1.1"/>
<rect x="836.07" y="118.60" width="6.00" height="1.50" fill="#26a69a" stroke="#8d91a1" stroke-width="1"/>
<line x1="848.04" y1="107.80" x2="848.04" y2="135.40" stroke="#ef5350" stroke-width="1.1"/>
<rect x="844.54" y="117.80" width="7.00" height="13.30" fill="#ef5350"/>
<line x1="857.01" y1="118.10" x2="857.01" y2="149.30" stroke="#ef5350" stroke-width="1.1"/>
<rect x="853.51" y="131.10" width="7.00" height="3.90" fill="#ef5350"/>
<line x1="865.98" y1="127.90" x2="865.98" y2="141.30" stroke="#ef5350" stroke-width="1.1"/>
<rect x="862.48" y="134.60" width="7.00" height="1.30" fill="#ef5350"/>
<line x1="874.96" y1="126.40" x2="874.96" y2="143.20" stroke="#26a69a" stroke-width="1.1"/>
<rect x="871.46" y="134.50" width="7.00" height="1.2" fill="#8d91a1"/>
<line x1="883.93" y1="134.40" x2="883.93" y2="191.40" stroke="#ef5350" stroke-width="1.1"/>
<rect x="880.43" y="135.40" width="7.00" height="5.70" fill="#ef5350"/>
<line x1="892.90" y1="140.70" x2="892.90" y2="185.30" stroke="#ef5350" stroke-width="1.1"/>
<rect x="889.40" y="141.10" width="7.00" height="42.30" fill="#ef5350"/>
<line x1="901.88" y1="168.50" x2="901.88" y2="197.60" stroke="#26a69a" stroke-width="1.1"/>
<rect x="898.88" y="178.20" width="6.00" height="4.50" fill="#26a69a" stroke="#8d91a1" stroke-width="1"/>
<line x1="910.85" y1="161.40" x2="910.85" y2="181.90" stroke="#26a69a" stroke-width="1.1"/>
<rect x="907.85" y="166.70" width="6.00" height="9.90" fill="#26a69a" stroke="#8d91a1" stroke-width="1"/>
<line x1="919.82" y1="157.00" x2="919.82" y2="180.30" stroke="#ef5350" stroke-width="1.1"/>
<rect x="916.32" y="166.00" width="7.00" height="11.50" fill="#ef5350"/>
<line x1="928.80" y1="158.20" x2="928.80" y2="195.20" stroke="#ef5350" stroke-width="1.1"/>
<rect x="925.30" y="177.50" width="7.00" height="13.60" fill="#ef5350"/>
<line x1="937.77" y1="166.20" x2="937.77" y2="204.60" stroke="#26a69a" stroke-width="1.1"/>
<rect x="934.77" y="173.90" width="6.00" height="16.30" fill="#26a69a" stroke="#8d91a1" stroke-width="1"/>
<line x1="946.74" y1="164.20" x2="946.74" y2="174.80" stroke="#26a69a" stroke-width="1.1"/>
<rect x="943.74" y="169.80" width="6.00" height="2.70" fill="#26a69a" stroke="#8d91a1" stroke-width="1"/>
<line x1="955.71" y1="136.60" x2="955.71" y2="168.30" stroke="#26a69a" stroke-width="1.1"/>
<rect x="952.71" y="143.30" width="6.00" height="24.50" fill="#26a69a" stroke="#8d91a1" stroke-width="1"/>
<line x1="964.69" y1="130.90" x2="964.69" y2="145.20" stroke="#26a69a" stroke-width="1.1"/>
<rect x="961.19" y="141.45" width="7.00" height="1.2" fill="#8d91a1"/>
<line x1="973.66" y1="111.70" x2="973.66" y2="143.20" stroke="#26a69a" stroke-width="1.1"/>
<rect x="970.66" y="114.70" width="6.00" height="25.50" fill="#26a69a" stroke="#8d91a1" stroke-width="1"/>
<line x1="982.63" y1="107.00" x2="982.63" y2="122.80" stroke="#26a69a" stroke-width="1.1"/>
<rect x="979.63" y="108.60" width="6.00" height="4.50" fill="#26a69a" stroke="#8d91a1" stroke-width="1"/>
<line x1="991.61" y1="93.80" x2="991.61" y2="118.90" stroke="#26a69a" stroke-width="1.1"/>
<rect x="988.61" y="102.40" width="6.00" height="4.80" fill="#26a69a" stroke="#8d91a1" stroke-width="1"/>
<line x1="1000.58" y1="96.80" x2="1000.58" y2="116.20" stroke="#ef5350" stroke-width="1.1"/>
<rect x="997.08" y="101.50" width="7.00" height="8.20" fill="#ef5350"/>
<line x1="1009.55" y1="107.00" x2="1009.55" y2="123.40" stroke="#26a69a" stroke-width="1.1"/>
<rect x="1006.05" y="109.20" width="7.00" height="1.2" fill="#8d91a1"/>
<line x1="1018.53" y1="97.20" x2="1018.53" y2="117.20" stroke="#ef5350" stroke-width="1.1"/>
<rect x="1015.03" y="109.10" width="7.00" height="1.30" fill="#ef5350"/>
<line x1="1027.50" y1="101.30" x2="1027.50" y2="129.50" stroke="#ef5350" stroke-width="1.1"/>
<rect x="1024.00" y="110.10" width="7.00" height="11.80" fill="#ef5350"/>
<line x1="1036.47" y1="102.60" x2="1036.47" y2="125.40" stroke="#26a69a" stroke-width="1.1"/>
<rect x="1033.47" y="104.10" width="6.00" height="17.10" fill="#26a69a" stroke="#8d91a1" stroke-width="1"/>
<line x1="1045.44" y1="97.40" x2="1045.44" y2="110.50" stroke="#26a69a" stroke-width="1.1"/>
<rect x="1042.44" y="101.80" width="6.00" height="1.10" fill="#26a69a" stroke="#8d91a1" stroke-width="1"/>
<line x1="1054.42" y1="75.40" x2="1054.42" y2="105.00" stroke="#26a69a" stroke-width="1.1"/>
<rect x="1051.42" y="77.90" width="6.00" height="22.10" fill="#26a69a" stroke="#8d91a1" stroke-width="1"/>
<line x1="1063.39" y1="67.70" x2="1063.39" y2="84.60" stroke="#ef5350" stroke-width="1.1"/>
<rect x="1059.89" y="77.00" width="7.00" height="4.50" fill="#ef5350"/>
<line x1="1072.36" y1="74.40" x2="1072.36" y2="86.60" stroke="#26a69a" stroke-width="1.1"/>
<rect x="1069.36" y="76.90" width="6.00" height="3.70" fill="#26a69a" stroke="#8d91a1" stroke-width="1"/>
<line x1="1081.34" y1="75.00" x2="1081.34" y2="93.40" stroke="#ef5350" stroke-width="1.1"/>
<rect x="1077.84" y="76.00" width="7.00" height="12.70" fill="#ef5350"/>
<line x1="1090.31" y1="77.00" x2="1090.31" y2="89.30" stroke="#26a69a" stroke-width="1.1"/>
<rect x="1087.31" y="77.50" width="6.00" height="10.30" fill="#26a69a" stroke="#8d91a1" stroke-width="1"/>
<line x1="1099.28" y1="64.90" x2="1099.28" y2="81.00" stroke="#ef5350" stroke-width="1.1"/>
<rect x="1095.78" y="76.80" width="7.00" height="4.20" fill="#ef5350"/>
<line x1="1108.26" y1="80.50" x2="1108.26" y2="96.50" stroke="#ef5350" stroke-width="1.1"/>
<rect x="1104.76" y="81.00" width="7.00" height="9.20" fill="#ef5350"/>
<line x1="1117.23" y1="89.20" x2="1117.23" y2="105.10" stroke="#ef5350" stroke-width="1.1"/>
<rect x="1113.73" y="90.20" width="7.00" height="13.30" fill="#ef5350"/>
<line x1="1126.20" y1="90.20" x2="1126.20" y2="104.50" stroke="#26a69a" stroke-width="1.1"/>
<rect x="1123.20" y="96.80" width="6.00" height="5.80" fill="#26a69a" stroke="#8d91a1" stroke-width="1"/>
<line x1="1135.17" y1="82.70" x2="1135.17" y2="96.90" stroke="#26a69a" stroke-width="1.1"/>
<rect x="1132.17" y="86.60" width="6.00" height="8.60" fill="#26a69a" stroke="#8d91a1" stroke-width="1"/>
<line x1="1144.15" y1="79.60" x2="1144.15" y2="88.20" stroke="#ef5350" stroke-width="1.1"/>
<rect x="1140.65" y="85.10" width="7.00" height="1.30" fill="#ef5350"/>
<line x1="1153.12" y1="86.10" x2="1153.12" y2="101.40" stroke="#ef5350" stroke-width="1.1"/>
<rect x="1149.62" y="86.10" width="7.00" height="7.60" fill="#ef5350"/>
<line x1="1162.09" y1="61.60" x2="1162.09" y2="92.90" stroke="#26a69a" stroke-width="1.1"/>
<rect x="1159.09" y="68.30" width="6.00" height="24.10" fill="#26a69a" stroke="#8d91a1" stroke-width="1"/>
<line x1="1171.07" y1="61.00" x2="1171.07" y2="118.80" stroke="#ef5350" stroke-width="1.1"/>
<rect x="1167.57" y="67.80" width="7.00" height="18.90" fill="#ef5350"/>
<line x1="1180.04" y1="84.10" x2="1180.04" y2="114.70" stroke="#ef5350" stroke-width="1.1"/>
<rect x="1176.54" y="87.10" width="7.00" height="14.90" fill="#ef5350"/>
<line x1="1189.01" y1="85.10" x2="1189.01" y2="106.50" stroke="#26a69a" stroke-width="1.1"/>
<rect x="1186.01" y="88.70" width="6.00" height="12.60" fill="#26a69a" stroke="#8d91a1" stroke-width="1"/>
<line x1="1197.99" y1="83.50" x2="1197.99" y2="107.10" stroke="#ef5350" stroke-width="1.1"/>
<rect x="1194.49" y="88.20" width="7.00" height="8.70" fill="#ef5350"/>
<line x1="1206.96" y1="95.70" x2="1206.96" y2="126.90" stroke="#ef5350" stroke-width="1.1"/>
<rect x="1203.46" y="96.90" width="7.00" height="15.30" fill="#ef5350"/>
<line x1="1215.93" y1="105.10" x2="1215.93" y2="144.30" stroke="#ef5350" stroke-width="1.1"/>
<rect x="1212.43" y="112.20" width="7.00" height="28.60" fill="#ef5350"/>
<line x1="1224.90" y1="135.70" x2="1224.90" y2="183.10" stroke="#ef5350" stroke-width="1.1"/>
<rect x="1221.40" y="141.20" width="7.00" height="22.50" fill="#ef5350"/>
<line x1="1233.88" y1="144.70" x2="1233.88" y2="167.80" stroke="#26a69a" stroke-width="1.1"/>
<rect x="1230.88" y="153.40" width="6.00" height="9.40" fill="#26a69a" stroke="#8d91a1" stroke-width="1"/>
<line x1="1242.85" y1="140.80" x2="1242.85" y2="172.40" stroke="#26a69a" stroke-width="1.1"/>
<rect x="1239.35" y="151.75" width="7.00" height="1.2" fill="#8d91a1"/>
<line x1="1251.82" y1="140.20" x2="1251.82" y2="160.60" stroke="#ef5350" stroke-width="1.1"/>
<rect x="1248.32" y="152.40" width="7.00" height="6.60" fill="#ef5350"/>
<line x1="1260.80" y1="152.40" x2="1260.80" y2="170.40" stroke="#26a69a" stroke-width="1.1"/>
<rect x="1257.30" y="158.00" width="7.00" height="1.2" fill="#8d91a1"/>
<line x1="1269.77" y1="151.80" x2="1269.77" y2="164.10" stroke="#ef5350" stroke-width="1.1"/>
<rect x="1266.27" y="157.60" width="7.00" height="2.30" fill="#ef5350"/>
<line x1="1278.74" y1="148.10" x2="1278.74" y2="162.80" stroke="#26a69a" stroke-width="1.1"/>
<rect x="1275.74" y="149.80" width="6.00" height="9.40" fill="#26a69a" stroke="#8d91a1" stroke-width="1"/>
<line x1="1287.72" y1="139.90" x2="1287.72" y2="155.00" stroke="#ef5350" stroke-width="1.1"/>
<rect x="1284.22" y="148.90" width="7.00" height="2.00" fill="#ef5350"/>
<line x1="1296.69" y1="130.20" x2="1296.69" y2="152.70" stroke="#26a69a" stroke-width="1.1"/>
<rect x="1293.69" y="143.60" width="6.00" height="6.50" fill="#26a69a" stroke="#8d91a1" stroke-width="1"/>
<line x1="1305.66" y1="143.10" x2="1305.66" y2="164.90" stroke="#ef5350" stroke-width="1.1"/>
<rect x="1302.16" y="143.10" width="7.00" height="20.80" fill="#ef5350"/>
<line x1="1314.63" y1="151.60" x2="1314.63" y2="200.20" stroke="#ef5350" stroke-width="1.1"/>
<rect x="1311.13" y="163.90" width="7.00" height="32.60" fill="#ef5350"/>
<line x1="1323.61" y1="188.40" x2="1323.61" y2="263.90" stroke="#ef5350" stroke-width="1.1"/>
<rect x="1320.11" y="196.50" width="7.00" height="24.50" fill="#ef5350"/>
<line x1="1332.58" y1="216.30" x2="1332.58" y2="241.80" stroke="#ef5350" stroke-width="1.1"/>
<rect x="1329.08" y="221.00" width="7.00" height="5.70" fill="#ef5350"/>
<line x1="1341.55" y1="221.60" x2="1341.55" y2="239.40" stroke="#ef5350" stroke-width="1.1"/>
<rect x="1338.05" y="226.70" width="7.00" height="4.90" fill="#ef5350"/>
<line x1="1350.53" y1="222.70" x2="1350.53" y2="253.30" stroke="#ef5350" stroke-width="1.1"/>
<rect x="1347.03" y="231.60" width="7.00" height="7.80" fill="#ef5350"/>
<line x1="1359.50" y1="207.30" x2="1359.50" y2="240.80" stroke="#26a69a" stroke-width="1.1"/>
<rect x="1356.50" y="219.90" width="6.00" height="18.60" fill="#26a69a" stroke="#8d91a1" stroke-width="1"/>
<line x1="11" y1="219.10" x2="1510" y2="219.10" stroke="#26a69a" stroke-opacity="0.7" stroke-width="1" stroke-dasharray="1.2,2.4"/>
<text x="1386.60" y="65.95" font-size="12.3" fill="#787b86" textLength="85.50" lengthAdjust="spacingAndGlyphs" >0 (126,199.00)</text>
<text x="1386.60" y="93.67" font-size="12.3" fill="#f23645" textLength="111.40" lengthAdjust="spacingAndGlyphs" >0.236 (114,017.47)</text>
<text x="1386.60" y="112.35" font-size="12.3" fill="#ff9800" textLength="111.40" lengthAdjust="spacingAndGlyphs" >0.382 (106,481.45)</text>
<text x="1386.60" y="128.43" font-size="12.3" fill="#4caf50" textLength="97.15" lengthAdjust="spacingAndGlyphs" >0.5 (100,390.68)</text>
<text x="1386.60" y="145.53" font-size="12.3" fill="#089981" textLength="104.40" lengthAdjust="spacingAndGlyphs" >0.618 (94,299.92)</text>
<text x="1386.60" y="171.87" font-size="12.3" fill="#00bcd4" textLength="104.40" lengthAdjust="spacingAndGlyphs" >0.786 (85,628.33)</text>
<text x="1386.60" y="209.59" font-size="12.3" fill="#787b86" textLength="79.40" lengthAdjust="spacingAndGlyphs" >1 (74,582.37)</text>
<text x="1386.60" y="266.55" font-size="12.3" fill="#ff9800" textLength="104.30" lengthAdjust="spacingAndGlyphs" >1.272 (60,542.64)</text>
<text x="1386.60" y="301.79" font-size="12.3" fill="#f23645" textLength="104.30" lengthAdjust="spacingAndGlyphs" >1.414 (53,213.08)</text>
<text x="1386.60" y="362.00" font-size="12.3" fill="#2962ff" textLength="104.30" lengthAdjust="spacingAndGlyphs" >1.618 (42,683.29)</text>
<text x="20.10" y="50.60" font-size="12.9" fill="#4a4c53" textLength="40.40" lengthAdjust="spacingAndGlyphs" >Bitcoin</text>
<text x="69.80" y="50.60" font-size="12.9" fill="#4a4c53" text-anchor="middle" >/</text>
<text x="76.50" y="50.60" font-size="12.9" fill="#4a4c53" textLength="52.30" lengthAdjust="spacingAndGlyphs" >TetherUS</text>
<text x="134.40" y="50.60" font-size="12.9" fill="#4a4c53" text-anchor="middle" >·</text>
<text x="142.90" y="50.60" font-size="12.9" fill="#4a4c53" textLength="17.10" lengthAdjust="spacingAndGlyphs" >1W</text>
<text x="167.10" y="50.60" font-size="12.9" fill="#4a4c53" text-anchor="middle" >·</text>
<text x="173.50" y="50.60" font-size="12.9" fill="#4a4c53" textLength="45.90" lengthAdjust="spacingAndGlyphs" >Binance</text>
<text x="228.60" y="50.60" font-size="12.9" fill="#4a4c53" >O</text>
<text x="237.60" y="50.60" font-size="12.9" fill="#8f929b" textLength="57.70" lengthAdjust="spacingAndGlyphs" >65,776.48</text>
<text x="303.90" y="50.60" font-size="12.9" fill="#4a4c53" >H</text>
<text x="312.50" y="50.60" font-size="12.9" fill="#8f929b" textLength="57.80" lengthAdjust="spacingAndGlyphs" >74,050.00</text>
<text x="379.50" y="50.60" font-size="12.9" fill="#4a4c53" >L</text>
<text x="385.80" y="50.60" font-size="12.9" fill="#8f929b" textLength="57.00" lengthAdjust="spacingAndGlyphs" >65,259.21</text>
<text x="452.60" y="50.60" font-size="12.9" fill="#4a4c53" >C</text>
<text x="460.60" y="50.60" font-size="12.9" fill="#8f929b" textLength="57.90" lengthAdjust="spacingAndGlyphs" >70,786.30</text>
<text x="526.50" y="50.60" font-size="12.9" fill="#8f929b" textLength="113.00" lengthAdjust="spacingAndGlyphs" >+5,009.83 (+7.62%)</text>
<text x="20.10" y="69.20" font-size="12.9" fill="#4a4c53" textLength="16.40" lengthAdjust="spacingAndGlyphs" >Vol</text>
<text x="43.90" y="69.20" font-size="12.9" fill="#4a4c53" text-anchor="middle" >·</text>
<text x="51.00" y="69.20" font-size="12.9" fill="#4a4c53" textLength="22.20" lengthAdjust="spacingAndGlyphs" >BTC</text>
<text x="82.20" y="69.20" font-size="12.9" fill="#26a69a" textLength="30.90" lengthAdjust="spacingAndGlyphs" >134 K</text>
<text x="20.10" y="87.70" font-size="12.9" fill="#4a4c53" textLength="23.30" lengthAdjust="spacingAndGlyphs" >EMA</text>
<text x="48.50" y="87.70" font-size="12.9" fill="#4a4c53" textLength="90.30" lengthAdjust="spacingAndGlyphs" >20/50/100/200</text>
<text x="147.20" y="87.70" font-size="12.9" fill="#ff0000" textLength="58.10" lengthAdjust="spacingAndGlyphs" >84,600.28</text>
<text x="214.20" y="87.70" font-size="12.9" fill="#ff7f00" textLength="57.20" lengthAdjust="spacingAndGlyphs" >91,278.69</text>
<text x="280.90" y="87.70" font-size="12.9" fill="#00e5ff" textLength="57.50" lengthAdjust="spacingAndGlyphs" >84,365.26</text>
<text x="347.30" y="87.70" font-size="12.9" fill="#0000ff" textLength="57.50" lengthAdjust="spacingAndGlyphs" >68,068.07</text>
<text x="11.60" y="21.70" font-size="14.3" fill="#16181f" textLength="85.00" lengthAdjust="spacingAndGlyphs" stroke="#16181f" stroke-width="0.25">Jake_Simmons</text>
<text x="101.30" y="21.70" font-size="14.3" fill="#16181f" textLength="45.30" lengthAdjust="spacingAndGlyphs" stroke="#16181f" stroke-width="0.25">created</text>
<text x="150.90" y="21.70" font-size="14.3" fill="#16181f" textLength="25.60" lengthAdjust="spacingAndGlyphs" stroke="#16181f" stroke-width="0.25">with</text>
<text x="181.80" y="21.70" font-size="14.3" fill="#16181f" textLength="103.60" lengthAdjust="spacingAndGlyphs" stroke="#16181f" stroke-width="0.25">TradingView.com,</text>
<text x="290.40" y="21.70" font-size="14.3" fill="#16181f" textLength="20.20" lengthAdjust="spacingAndGlyphs" stroke="#16181f" stroke-width="0.25">Mar</text>
<text x="316.30" y="21.70" font-size="14.3" fill="#16181f" textLength="17.30" lengthAdjust="spacingAndGlyphs" stroke="#16181f" stroke-width="0.25">06,</text>
<text x="338.60" y="21.70" font-size="14.3" fill="#16181f" textLength="28.00" lengthAdjust="spacingAndGlyphs" stroke="#16181f" stroke-width="0.25">2026</text>
<text x="370.60" y="21.70" font-size="14.3" fill="#16181f" textLength="32.20" lengthAdjust="spacingAndGlyphs" stroke="#16181f" stroke-width="0.25">02:03</text>
<text x="407.90" y="21.70" font-size="14.3" fill="#16181f" textLength="35.20" lengthAdjust="spacingAndGlyphs" stroke="#16181f" stroke-width="0.25">UTC-5</text>
<line x1="11" y1="620.12" x2="1510" y2="620.12" stroke="#e6eef4"/>
<line x1="11" y1="665.62" x2="1510" y2="665.62" stroke="#e6eef4"/>
<rect x="11" y="631.5" width="1499" height="45.5" fill="#7e57c2" fill-opacity="0.1"/>
<line x1="11.4" y1="631.50" x2="1509" y2="631.50" stroke="#787b86" stroke-width="1.1" stroke-dasharray="4.2,5.5"/>
<line x1="11.4" y1="654.25" x2="1509" y2="654.25" stroke="#9a9da6" stroke-width="1.1" stroke-dasharray="4.2,5.5"/>
<line x1="11.4" y1="677.00" x2="1509" y2="677.00" stroke="#787b86" stroke-width="1.1" stroke-dasharray="4.2,5.5"/>
<defs><linearGradient id="ob" gradientUnits="userSpaceOnUse" x1="0" y1="592" x2="0" y2="631.5"><stop offset="0" stop-color="#4caf50" stop-opacity="1"/><stop offset="1" stop-color="#4caf50" stop-opacity="0"/></linearGradient><clipPath id="cob"><rect x="11" y="607" width="1499" height="24.5"/></clipPath><clipPath id="cpm"><rect x="11" y="29.5" width="1499" height="577.0"/></clipPath><clipPath id="cpr"><rect x="11" y="607" width="1499" height="80.5"/></clipPath></defs>
<polygon points="13.55,631.5 4.58,641.51 13.55,640.60 22.52,638.72 31.50,641.80 40.47,647.59 49.44,648.23 58.41,644.37 67.39,648.10 76.36,652.44 85.33,651.28 94.31,639.49 103.28,638.99 112.25,641.18 121.23,640.65 130.20,641.73 139.17,645.61 148.14,646.48 157.12,645.65 166.09,658.83 175.06,659.30 184.04,659.76 193.01,660.18 201.98,656.97 210.96,658.22 219.93,649.91 228.90,650.07 237.88,654.02 246.85,642.37 255.82,630.56 264.79,629.54 273.77,625.77 282.74,625.25 291.71,624.76 300.69,620.93 309.66,616.22 318.63,627.69 327.61,625.32 336.58,627.96 345.55,625.54 354.52,634.49 363.50,635.09 372.47,634.34 381.44,633.20 390.42,623.86 399.39,619.66 408.36,621.03 417.33,612.88 426.31,610.35 435.28,611.47 444.25,615.40 453.23,613.25 462.20,618.53 471.17,628.47 480.15,630.24 489.12,634.74 498.09,633.82 507.06,639.69 516.04,633.83 525.01,631.45 533.98,633.01 542.96,631.07 551.93,637.91 560.90,645.71 569.88,646.58 578.85,659.03 587.82,651.31 596.79,641.94 605.77,641.61 614.74,656.55 623.71,656.09 632.69,656.40 641.66,648.70 650.63,657.61 659.61,660.33 668.58,654.84 677.55,649.56 686.52,647.39 695.50,651.04 704.47,650.75 713.44,643.93 722.42,645.24 731.39,644.57 740.36,633.60 749.34,627.45 758.31,623.33 767.28,624.28 776.25,622.48 785.23,620.96 794.20,634.53 803.17,636.38 812.15,633.43 821.12,638.37 830.09,633.82 839.07,632.98 848.04,639.46 857.01,641.27 865.98,641.70 874.96,641.28 883.93,644.66 892.90,660.42 901.88,658.46 910.85,654.47 919.82,658.13 928.80,662.06 937.77,655.93 946.74,654.53 955.71,645.94 964.69,645.48 973.66,637.60 982.63,635.98 991.61,634.30 1000.58,638.55 1009.55,638.36 1018.53,638.95 1027.50,645.47 1036.47,639.10 1045.44,638.33 1054.42,631.09 1063.39,633.71 1072.36,632.18 1081.34,639.87 1090.31,636.02 1099.28,638.48 1108.26,643.81 1117.23,650.46 1126.20,647.60 1135.17,643.67 1144.15,643.67 1153.12,647.96 1162.09,638.12 1171.07,647.91 1180.04,654.16 1189.01,649.19 1197.99,652.69 1206.96,658.12 1215.93,665.93 1224.90,670.61 1233.88,667.03 1242.85,666.65 1251.82,668.27 1260.80,667.89 1269.77,668.36 1278.74,663.94 1287.72,664.42 1296.69,660.98 1305.66,667.29 1314.63,674.37 1323.61,678.25 1332.58,679.05 1341.55,679.74 1350.53,680.84 1359.50,673.23 1359.50,631.5" fill="url(#ob)" clip-path="url(#cob)"/>
<polyline points="4.58,644.00 13.55,643.77 22.52,642.98 31.50,642.50 40.47,642.51 49.44,642.57 58.41,642.43 67.39,642.56 76.36,643.00 85.33,643.60 94.31,643.52 103.28,643.49 112.25,643.65 121.23,643.78 130.20,643.94 139.17,644.30 148.14,644.85 157.12,645.13 166.09,645.93 175.06,646.72 184.04,647.82 193.01,648.68 201.98,649.01 210.96,649.50 219.93,650.25 228.90,651.04 237.88,651.96 246.85,652.08 255.82,651.28 264.79,650.13 273.77,648.65 282.74,647.20 291.71,644.76 300.69,642.02 309.66,638.91 318.63,636.59 327.61,634.33 336.58,632.17 345.55,630.43 354.52,629.32 363.50,627.96 372.47,627.39 381.44,627.58 390.42,627.17 399.39,626.74 408.36,626.43 417.33,625.59 426.31,624.83 435.28,624.49 444.25,623.61 453.23,622.75 462.20,622.08 471.17,622.29 480.15,621.98 489.12,621.96 498.09,621.92 507.06,622.38 516.04,623.10 525.01,623.94 533.98,624.79 542.96,626.09 551.93,628.06 560.90,630.51 569.88,632.73 578.85,636.00 587.82,638.35 596.79,639.31 605.77,640.12 614.74,641.68 623.71,643.27 632.69,644.46 641.66,645.53 650.63,647.39 659.61,649.34 668.58,651.04 677.55,651.88 686.52,652.00 695.50,652.31 704.47,651.72 713.44,651.20 722.42,651.43 731.39,651.64 740.36,650.00 749.34,647.96 758.31,645.60 767.28,643.85 776.25,641.34 785.23,638.53 794.20,637.08 803.17,636.14 812.15,635.14 821.12,634.24 830.09,633.03 839.07,632.25 848.04,631.83 857.01,631.60 865.98,632.18 874.96,633.16 883.93,634.69 892.90,637.27 901.88,639.84 910.85,642.23 919.82,643.92 928.80,645.75 937.77,647.36 946.74,648.51 955.71,649.38 964.69,650.27 973.66,650.14 982.63,649.76 991.61,649.23 1000.58,649.04 1009.55,648.59 1018.53,647.05 1027.50,646.13 1036.47,645.03 1045.44,643.61 1054.42,641.40 1063.39,639.81 1072.36,638.22 1081.34,637.78 1090.31,637.11 1099.28,637.17 1108.26,637.73 1117.23,638.89 1126.20,639.53 1135.17,639.91 1144.15,640.25 1153.12,640.43 1162.09,640.36 1171.07,641.04 1180.04,642.69 1189.01,643.79 1197.99,645.26 1206.96,646.56 1215.93,648.70 1224.90,650.99 1233.88,652.65 1242.85,653.81 1251.82,655.28 1260.80,657.01 1269.77,658.78 1278.74,659.92 1287.72,661.80 1296.69,662.73 1305.66,663.67 1314.63,665.47 1323.61,667.29 1332.58,668.79 1341.55,669.78 1350.53,670.51 1359.50,670.95" fill="none" stroke="#fbe64d" stroke-width="1.3" stroke-linejoin="round" clip-path="url(#cpr)"/>
<polyline points="4.58,641.51 13.55,640.60 22.52,638.72 31.50,641.80 40.47,647.59 49.44,648.23 58.41,644.37 67.39,648.10 76.36,652.44 85.33,651.28 94.31,639.49 103.28,638.99 112.25,641.18 121.23,640.65 130.20,641.73 139.17,645.61 148.14,646.48 157.12,645.65 166.09,658.83 175.06,659.30 184.04,659.76 193.01,660.18 201.98,656.97 210.96,658.22 219.93,649.91 228.90,650.07 237.88,654.02 246.85,642.37 255.82,630.56 264.79,629.54 273.77,625.77 282.74,625.25 291.71,624.76 300.69,620.93 309.66,616.22 318.63,627.69 327.61,625.32 336.58,627.96 345.55,625.54 354.52,634.49 363.50,635.09 372.47,634.34 381.44,633.20 390.42,623.86 399.39,619.66 408.36,621.03 417.33,612.88 426.31,610.35 435.28,611.47 444.25,615.40 453.23,613.25 462.20,618.53 471.17,628.47 480.15,630.24 489.12,634.74 498.09,633.82 507.06,639.69 516.04,633.83 525.01,631.45 533.98,633.01 542.96,631.07 551.93,637.91 560.90,645.71 569.88,646.58 578.85,659.03 587.82,651.31 596.79,641.94 605.77,641.61 614.74,656.55 623.71,656.09 632.69,656.40 641.66,648.70 650.63,657.61 659.61,660.33 668.58,654.84 677.55,649.56 686.52,647.39 695.50,651.04 704.47,650.75 713.44,643.93 722.42,645.24 731.39,644.57 740.36,633.60 749.34,627.45 758.31,623.33 767.28,624.28 776.25,622.48 785.23,620.96 794.20,634.53 803.17,636.38 812.15,633.43 821.12,638.37 830.09,633.82 839.07,632.98 848.04,639.46 857.01,641.27 865.98,641.70 874.96,641.28 883.93,644.66 892.90,660.42 901.88,658.46 910.85,654.47 919.82,658.13 928.80,662.06 937.77,655.93 946.74,654.53 955.71,645.94 964.69,645.48 973.66,637.60 982.63,635.98 991.61,634.30 1000.58,638.55 1009.55,638.36 1018.53,638.95 1027.50,645.47 1036.47,639.10 1045.44,638.33 1054.42,631.09 1063.39,633.71 1072.36,632.18 1081.34,639.87 1090.31,636.02 1099.28,638.48 1108.26,643.81 1117.23,650.46 1126.20,647.60 1135.17,643.67 1144.15,643.67 1153.12,647.96 1162.09,638.12 1171.07,647.91 1180.04,654.16 1189.01,649.19 1197.99,652.69 1206.96,658.12 1215.93,665.93 1224.90,670.61 1233.88,667.03 1242.85,666.65 1251.82,668.27 1260.80,667.89 1269.77,668.36 1278.74,663.94 1287.72,664.42 1296.69,660.98 1305.66,667.29 1314.63,674.37 1323.61,678.25 1332.58,679.05 1341.55,679.74 1350.53,680.84 1359.50,673.23" fill="none" stroke="#7e57c2" stroke-width="1.3" stroke-linejoin="round" clip-path="url(#cpr)"/>
<text x="20.10" y="628.50" font-size="12.9" fill="#4a4c53" textLength="83.50" lengthAdjust="spacingAndGlyphs" >RSI (14, close)</text>
<text x="113.00" y="627.30" font-size="12.9" fill="#7e57c2" textLength="31.50" lengthAdjust="spacingAndGlyphs" >33.33</text>
<text x="153.75" y="627.30" font-size="12.9" fill="#fbe64d" textLength="31.75" lengthAdjust="spacingAndGlyphs" >35.39</text>
<text x="195.00" y="627.30" font-size="12.9" fill="#5d606b" textLength="10.50" lengthAdjust="spacingAndGlyphs" >∅</text>
<text x="215.50" y="627.30" font-size="12.9" fill="#5d606b" textLength="10.70" lengthAdjust="spacingAndGlyphs" >∅</text>
<line x1="10.5" y1="29" x2="1588.5" y2="29" stroke="#f3f5f8" stroke-width="1"/>
<line x1="10.5" y1="29" x2="10.5" y2="717.5" stroke="#f3f5f8" stroke-width="1"/>
<line x1="1588.5" y1="29" x2="1588.5" y2="717.5" stroke="#f3f5f8" stroke-width="1"/>
<line x1="10.5" y1="717.5" x2="1588.5" y2="717.5" stroke="#f3f5f9" stroke-width="1"/>
<line x1="11" y1="606.7" x2="1588" y2="606.7" stroke="#e0e3eb" stroke-width="1"/>
<line x1="11" y1="687.5" x2="1588" y2="687.5" stroke="#4a4a4a" stroke-width="1.1"/>
<line x1="1510.2" y1="29" x2="1510.2" y2="717.5" stroke="#707070" stroke-width="1.4"/>
<text x="1519.80" y="78.51" font-size="12" fill="#4f5054" textLength="58.50" lengthAdjust="spacingAndGlyphs" >120,000.00</text>
<text x="1519.80" y="128.30" font-size="12" fill="#4f5054" textLength="58.50" lengthAdjust="spacingAndGlyphs" >100,000.00</text>
<text x="1519.80" y="172.68" font-size="12" fill="#4f5054" textLength="52.10" lengthAdjust="spacingAndGlyphs" >85,000.00</text>
<text x="1519.80" y="214.25" font-size="12" fill="#4f5054" textLength="52.10" lengthAdjust="spacingAndGlyphs" >73,000.00</text>
<text x="1519.80" y="245.94" font-size="12" fill="#4f5054" textLength="52.10" lengthAdjust="spacingAndGlyphs" >65,000.00</text>
<text x="1519.80" y="281.81" font-size="12" fill="#4f5054" textLength="52.10" lengthAdjust="spacingAndGlyphs" >57,000.00</text>
<text x="1519.80" y="320.34" font-size="12" fill="#4f5054" textLength="52.10" lengthAdjust="spacingAndGlyphs" >49,500.00</text>
<text x="1519.80" y="355.63" font-size="12" fill="#4f5054" textLength="52.10" lengthAdjust="spacingAndGlyphs" >43,500.00</text>
<text x="1519.80" y="396.16" font-size="12" fill="#4f5054" textLength="52.10" lengthAdjust="spacingAndGlyphs" >37,500.00</text>
<text x="1519.80" y="443.78" font-size="12" fill="#4f5054" textLength="52.10" lengthAdjust="spacingAndGlyphs" >31,500.00</text>
<text x="1519.80" y="480.87" font-size="12" fill="#4f5054" textLength="52.10" lengthAdjust="spacingAndGlyphs" >27,500.00</text>
<text x="1519.80" y="512.41" font-size="12" fill="#4f5054" textLength="52.10" lengthAdjust="spacingAndGlyphs" >24,500.00</text>
<text x="1519.80" y="545.56" font-size="12" fill="#4f5054" textLength="52.10" lengthAdjust="spacingAndGlyphs" >21,700.00</text>
<text x="1519.80" y="578.98" font-size="12" fill="#4f5054" textLength="52.10" lengthAdjust="spacingAndGlyphs" >19,200.00</text>
<text x="1520.00" y="624.73" font-size="12" fill="#4f5054" textLength="29.50" lengthAdjust="spacingAndGlyphs" >80.00</text>
<text x="1520.00" y="670.23" font-size="12" fill="#4f5054" textLength="29.50" lengthAdjust="spacingAndGlyphs" >40.00</text>
<rect x="1514" y="33.5" width="70" height="28.5" rx="4" fill="#fff" stroke="#f1f3f8" stroke-width="1"/>
<text x="1524.50" y="51.60" font-size="13" fill="#131722" textLength="30.00" lengthAdjust="spacingAndGlyphs" stroke="#131722" stroke-width="0.25">USDT</text>
<path d="M1454 210.7H1510V227.6H1454a2.2 2.2 0 0 1-2.2-2.2V212.9a2.2 2.2 0 0 1 2.2-2.2Z" fill="#26a69a"/>
<line x1="1510.2" y1="210.7" x2="1510.2" y2="227.6" stroke="#2f9d92" stroke-width="1.4"/>
<path d="M1510.9 210.7H1575.6a2.5 2.5 0 0 1 2.5 2.5V239.4a2.5 2.5 0 0 1-2.5 2.5H1510.9Z" fill="#26a69a"/>
<text x="1456.30" y="223.60" font-size="11.8" fill="#fff" textLength="48.30" lengthAdjust="spacingAndGlyphs" stroke="#fff" stroke-width="0.2">BTCUSDT</text>
<text x="1519.80" y="223.10" font-size="12" fill="#fff" textLength="52.50" lengthAdjust="spacingAndGlyphs" stroke="#fff" stroke-width="0.2">70,786.30</text>
<text x="1519.80" y="237.10" font-size="12" fill="#e9f6f5" textLength="35.10" lengthAdjust="spacingAndGlyphs" >2d 17h</text>
<text x="31.50" y="707.00" font-size="11.3" fill="#4f5054" text-anchor="middle" >May</text>
<text x="112.25" y="707.00" font-size="11.3" fill="#4f5054" text-anchor="middle" >Jul</text>
<text x="193.01" y="707.00" font-size="11.3" fill="#4f5054" text-anchor="middle" >Sep</text>
<text x="273.77" y="707.00" font-size="11.3" fill="#4f5054" text-anchor="middle" >Nov</text>
<text x="332.15" y="707.00" font-size="11.6" fill="#4f5054" textLength="26.80" lengthAdjust="spacingAndGlyphs" font-weight="bold" >2024</text>
<text x="426.31" y="707.00" font-size="11.3" fill="#4f5054" text-anchor="middle" >Mar</text>
<text x="507.06" y="707.00" font-size="11.3" fill="#4f5054" text-anchor="middle" >May</text>
<text x="578.85" y="707.00" font-size="11.3" fill="#4f5054" text-anchor="middle" >Jul</text>
<text x="659.61" y="707.00" font-size="11.3" fill="#4f5054" text-anchor="middle" >Sep</text>
<text x="740.36" y="707.00" font-size="11.3" fill="#4f5054" text-anchor="middle" >Nov</text>
<text x="807.72" y="707.00" font-size="11.6" fill="#4f5054" textLength="26.80" lengthAdjust="spacingAndGlyphs" font-weight="bold" >2025</text>
<text x="892.90" y="707.00" font-size="11.3" fill="#4f5054" text-anchor="middle" >Mar</text>
<text x="973.66" y="707.00" font-size="11.3" fill="#4f5054" text-anchor="middle" >May</text>
<text x="1054.42" y="707.00" font-size="11.3" fill="#4f5054" text-anchor="middle" >Jul</text>
<text x="1126.20" y="707.00" font-size="11.3" fill="#4f5054" text-anchor="middle" >Sep</text>
<text x="1206.96" y="707.00" font-size="11.3" fill="#4f5054" text-anchor="middle" >Nov</text>
<text x="1274.32" y="707.00" font-size="11.6" fill="#4f5054" textLength="26.80" lengthAdjust="spacingAndGlyphs" font-weight="bold" >2026</text>
<text x="1359.50" y="707.00" font-size="11.3" fill="#4f5054" text-anchor="middle" >Mar</text>
<text x="1440.26" y="707.00" font-size="11.3" fill="#4f5054" text-anchor="middle" >May</text>
<g fill="#0f0f0f"><path d="M13.2 742.2H27V758.7H20.1V750.4H13.2Z"/><circle cx="31.8" cy="745.6" r="3.3"/><path d="M37.6 742.2H45.8L39.8 758.7H31.7Z"/></g>
<text x="53.67" y="758.7" font-size="24.2" font-weight="bold" fill="#0f0f0f" stroke="#0f0f0f" stroke-width="0.3" stroke-linejoin="round" textLength="12.76" lengthAdjust="spacingAndGlyphs">T</text>
<text x="66.11" y="758.7" font-size="24.2" font-weight="bold" fill="#0f0f0f" stroke="#0f0f0f" stroke-width="0.3" stroke-linejoin="round" textLength="8.21" lengthAdjust="spacingAndGlyphs">r</text>
<text x="74.80" y="758.7" font-size="24.2" font-weight="bold" fill="#0f0f0f" stroke="#0f0f0f" stroke-width="0.3" stroke-linejoin="round" textLength="11.37" lengthAdjust="spacingAndGlyphs">a</text>
<text x="86.67" y="758.7" font-size="24.2" font-weight="bold" fill="#0f0f0f" stroke="#0f0f0f" stroke-width="0.3" stroke-linejoin="round" textLength="13.82" lengthAdjust="spacingAndGlyphs">d</text>
<text x="99.72" y="758.7" font-size="24.2" font-weight="bold" fill="#0f0f0f" stroke="#0f0f0f" stroke-width="0.3" stroke-linejoin="round" textLength="7.49" lengthAdjust="spacingAndGlyphs">i</text>
<text x="106.94" y="758.7" font-size="24.2" font-weight="bold" fill="#0f0f0f" stroke="#0f0f0f" stroke-width="0.3" stroke-linejoin="round" textLength="11.64" lengthAdjust="spacingAndGlyphs">n</text>
<text x="119.11" y="758.7" font-size="24.2" font-weight="bold" fill="#0f0f0f" stroke="#0f0f0f" stroke-width="0.3" stroke-linejoin="round" textLength="13.24" lengthAdjust="spacingAndGlyphs">g</text>
<text x="131.63" y="758.7" font-size="24.2" font-weight="bold" fill="#0f0f0f" stroke="#0f0f0f" stroke-width="0.3" stroke-linejoin="round" textLength="16.13" lengthAdjust="spacingAndGlyphs">V</text>
<text x="147.92" y="758.7" font-size="24.2" font-weight="bold" fill="#0f0f0f" stroke="#0f0f0f" stroke-width="0.3" stroke-linejoin="round" textLength="7.09" lengthAdjust="spacingAndGlyphs">i</text>
<text x="154.45" y="758.7" font-size="24.2" font-weight="bold" fill="#0f0f0f" stroke="#0f0f0f" stroke-width="0.3" stroke-linejoin="round" textLength="13.59" lengthAdjust="spacingAndGlyphs">e</text>
<text x="168.17" y="758.7" font-size="24.2" font-weight="bold" fill="#0f0f0f" stroke="#0f0f0f" stroke-width="0.3" stroke-linejoin="round" textLength="18.29" lengthAdjust="spacingAndGlyphs">w</text></svg></body></html>
